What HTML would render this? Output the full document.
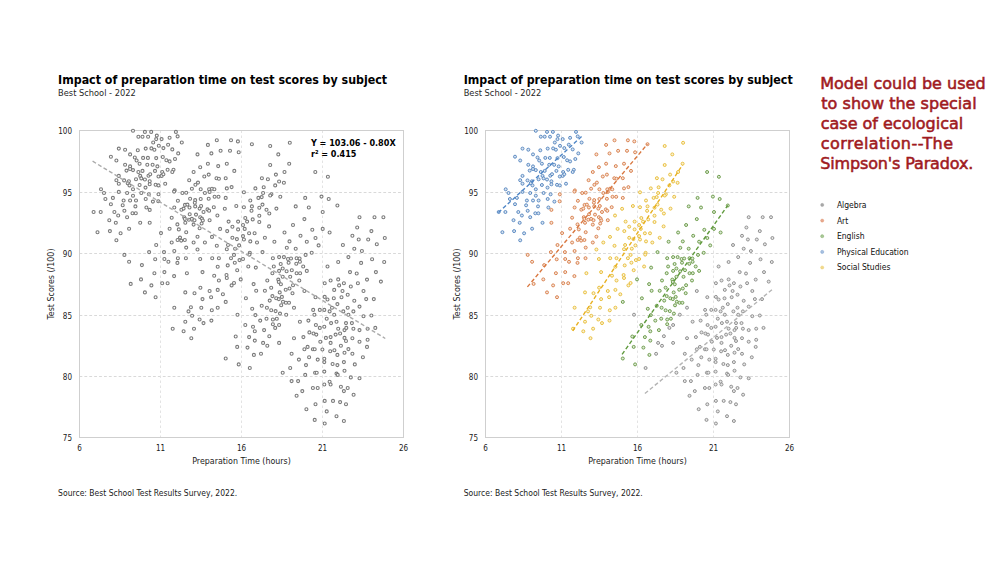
<!DOCTYPE html>
<html><head><meta charset="utf-8"><title>Impact of preparation time on test scores by subject</title><style>
html,body{margin:0;padding:0;background:#fff;}
svg{display:block;}
.soft{filter:blur(0.3px);}
text{font-family:'DejaVu Sans Condensed','DejaVu Sans',sans-serif;font-stretch:condensed;}
.g{stroke:#d9d9d9;stroke-width:1;stroke-dasharray:2.8 2.1;}
.gv{stroke:#e3e3e3;stroke-width:1;stroke-dasharray:2.5 2.5;}
.ax{fill:none;stroke:#cfcfcf;stroke-width:1;}
.tk{font-size:8px;fill:#1a1a1a;}
.at{font-size:8.8px;fill:#1a1a1a;}
.yt{font-size:8.85px;fill:#1a1a1a;}
.ti{font-size:12.3px;font-weight:bold;fill:#000;}
.st{font-size:9.2px;fill:#262626;}
.src{font-size:8.5px;fill:#1a1a1a;}
.eq{font-size:9px;font-weight:bold;fill:#000;}
.lg{font-size:8.5px;fill:#111;}
.red{font-family:'DejaVu Sans',sans-serif;font-stretch:normal;font-size:16px;fill:#A01A1E;stroke:#A01A1E;stroke-width:0.55px;}
.tr{stroke-width:1.4;stroke-dasharray:4 2.4;fill:none;}
.dl{fill:#fff;stroke:#7a7a7a;stroke-width:1.1;}
.dr{stroke-width:0.95;}
</style></head><body>
<svg width="1005" height="565" viewBox="0 0 1005 565">
<rect width="1005" height="565" fill="#fff"/>
<g class="soft">
<line x1="79.5" y1="192.5" x2="403.5" y2="192.5" class="g"/>
<line x1="79.5" y1="253.5" x2="403.5" y2="253.5" class="g"/>
<line x1="79.5" y1="315.5" x2="403.5" y2="315.5" class="g"/>
<line x1="79.5" y1="376.5" x2="403.5" y2="376.5" class="g"/>
<line x1="160.5" y1="130.5" x2="160.5" y2="437.5" class="gv"/>
<line x1="241.5" y1="130.5" x2="241.5" y2="437.5" class="gv"/>
<line x1="322.5" y1="130.5" x2="322.5" y2="437.5" class="gv"/>
<rect x="79.5" y="130.5" width="324.0" height="307.0" class="ax"/>
<line x1="485.5" y1="192.5" x2="789.5" y2="192.5" class="g"/>
<line x1="485.5" y1="253.5" x2="789.5" y2="253.5" class="g"/>
<line x1="485.5" y1="315.5" x2="789.5" y2="315.5" class="g"/>
<line x1="485.5" y1="376.5" x2="789.5" y2="376.5" class="g"/>
<line x1="561.5" y1="130.5" x2="561.5" y2="437.5" class="gv"/>
<line x1="637.5" y1="130.5" x2="637.5" y2="437.5" class="gv"/>
<line x1="713.5" y1="130.5" x2="713.5" y2="437.5" class="gv"/>
<rect x="485.5" y="130.5" width="304.0" height="307.0" class="ax"/>
<circle cx="133.0" cy="130.8" r="1.5" class="dl"/>
<circle cx="144.9" cy="131.9" r="1.5" class="dl"/>
<circle cx="151.2" cy="131.9" r="1.5" class="dl"/>
<circle cx="138.4" cy="136.7" r="1.5" class="dl"/>
<circle cx="142.5" cy="136.7" r="1.5" class="dl"/>
<circle cx="148.1" cy="136.7" r="1.5" class="dl"/>
<circle cx="156.8" cy="135.6" r="1.5" class="dl"/>
<circle cx="156.2" cy="139.1" r="1.5" class="dl"/>
<circle cx="153.2" cy="142.5" r="1.5" class="dl"/>
<circle cx="158.8" cy="145.8" r="1.5" class="dl"/>
<circle cx="118.8" cy="148.6" r="1.5" class="dl"/>
<circle cx="125.1" cy="149.7" r="1.5" class="dl"/>
<circle cx="137.8" cy="150.3" r="1.5" class="dl"/>
<circle cx="145.7" cy="148.6" r="1.5" class="dl"/>
<circle cx="151.4" cy="148.4" r="1.5" class="dl"/>
<circle cx="154.4" cy="149.7" r="1.5" class="dl"/>
<circle cx="130.1" cy="154.4" r="1.5" class="dl"/>
<circle cx="110.9" cy="156.7" r="1.5" class="dl"/>
<circle cx="134.8" cy="157.5" r="1.5" class="dl"/>
<circle cx="143.1" cy="157.9" r="1.5" class="dl"/>
<circle cx="147.9" cy="157.9" r="1.5" class="dl"/>
<circle cx="156.2" cy="158.1" r="1.5" class="dl"/>
<circle cx="116.4" cy="160.5" r="1.5" class="dl"/>
<circle cx="136.6" cy="160.5" r="1.5" class="dl"/>
<circle cx="139.6" cy="163.7" r="1.5" class="dl"/>
<circle cx="125.1" cy="164.8" r="1.5" class="dl"/>
<circle cx="147.3" cy="164.8" r="1.5" class="dl"/>
<circle cx="152.6" cy="164.8" r="1.5" class="dl"/>
<circle cx="130.1" cy="166.4" r="1.5" class="dl"/>
<circle cx="157.4" cy="166.4" r="1.5" class="dl"/>
<circle cx="126.5" cy="170.6" r="1.5" class="dl"/>
<circle cx="130.1" cy="169.0" r="1.5" class="dl"/>
<circle cx="133.0" cy="170.1" r="1.5" class="dl"/>
<circle cx="138.4" cy="172.0" r="1.5" class="dl"/>
<circle cx="142.5" cy="170.9" r="1.5" class="dl"/>
<circle cx="155.0" cy="170.9" r="1.5" class="dl"/>
<circle cx="118.8" cy="175.9" r="1.5" class="dl"/>
<circle cx="140.2" cy="175.9" r="1.5" class="dl"/>
<circle cx="148.5" cy="175.7" r="1.5" class="dl"/>
<circle cx="150.2" cy="174.2" r="1.5" class="dl"/>
<circle cx="158.5" cy="176.5" r="1.5" class="dl"/>
<circle cx="116.4" cy="180.2" r="1.5" class="dl"/>
<circle cx="124.1" cy="180.4" r="1.5" class="dl"/>
<circle cx="128.9" cy="181.3" r="1.5" class="dl"/>
<circle cx="136.0" cy="179.3" r="1.5" class="dl"/>
<circle cx="141.3" cy="178.4" r="1.5" class="dl"/>
<circle cx="144.9" cy="179.5" r="1.5" class="dl"/>
<circle cx="149.7" cy="181.3" r="1.5" class="dl"/>
<circle cx="118.8" cy="183.7" r="1.5" class="dl"/>
<circle cx="127.7" cy="183.2" r="1.5" class="dl"/>
<circle cx="129.5" cy="185.4" r="1.5" class="dl"/>
<circle cx="139.6" cy="185.0" r="1.5" class="dl"/>
<circle cx="149.7" cy="184.3" r="1.5" class="dl"/>
<circle cx="155.6" cy="184.8" r="1.5" class="dl"/>
<circle cx="158.5" cy="185.4" r="1.5" class="dl"/>
<circle cx="101.0" cy="189.3" r="1.5" class="dl"/>
<circle cx="133.0" cy="189.3" r="1.5" class="dl"/>
<circle cx="145.5" cy="187.6" r="1.5" class="dl"/>
<circle cx="104.0" cy="193.0" r="1.5" class="dl"/>
<circle cx="118.8" cy="191.9" r="1.5" class="dl"/>
<circle cx="127.1" cy="193.0" r="1.5" class="dl"/>
<circle cx="133.0" cy="195.7" r="1.5" class="dl"/>
<circle cx="141.3" cy="193.0" r="1.5" class="dl"/>
<circle cx="148.8" cy="194.3" r="1.5" class="dl"/>
<circle cx="105.4" cy="199.0" r="1.5" class="dl"/>
<circle cx="112.9" cy="197.9" r="1.5" class="dl"/>
<circle cx="123.6" cy="200.5" r="1.5" class="dl"/>
<circle cx="130.1" cy="200.5" r="1.5" class="dl"/>
<circle cx="136.0" cy="200.5" r="1.5" class="dl"/>
<circle cx="145.7" cy="199.0" r="1.5" class="dl"/>
<circle cx="152.9" cy="201.6" r="1.5" class="dl"/>
<circle cx="110.9" cy="204.2" r="1.5" class="dl"/>
<circle cx="122.7" cy="205.3" r="1.5" class="dl"/>
<circle cx="135.4" cy="206.4" r="1.5" class="dl"/>
<circle cx="146.4" cy="207.5" r="1.5" class="dl"/>
<circle cx="93.6" cy="212.0" r="1.5" class="dl"/>
<circle cx="100.7" cy="212.0" r="1.5" class="dl"/>
<circle cx="114.4" cy="212.0" r="1.5" class="dl"/>
<circle cx="118.2" cy="215.5" r="1.5" class="dl"/>
<circle cx="124.4" cy="210.8" r="1.5" class="dl"/>
<circle cx="127.1" cy="217.2" r="1.5" class="dl"/>
<circle cx="132.5" cy="213.3" r="1.5" class="dl"/>
<circle cx="135.8" cy="213.3" r="1.5" class="dl"/>
<circle cx="109.3" cy="220.2" r="1.5" class="dl"/>
<circle cx="115.8" cy="222.8" r="1.5" class="dl"/>
<circle cx="140.2" cy="222.8" r="1.5" class="dl"/>
<circle cx="129.1" cy="228.7" r="1.5" class="dl"/>
<circle cx="97.5" cy="232.2" r="1.5" class="dl"/>
<circle cx="109.9" cy="231.1" r="1.5" class="dl"/>
<circle cx="120.6" cy="233.3" r="1.5" class="dl"/>
<circle cx="116.4" cy="240.3" r="1.5" class="dl"/>
<circle cx="158.5" cy="194.3" r="1.5" class="dl"/>
<circle cx="158.3" cy="201.3" r="1.5" class="dl"/>
<circle cx="149.7" cy="209.9" r="1.5" class="dl"/>
<circle cx="149.7" cy="222.8" r="1.5" class="dl"/>
<circle cx="156.2" cy="245.0" r="1.5" class="dl"/>
<circle cx="149.1" cy="252.1" r="1.5" class="dl"/>
<circle cx="124.4" cy="254.9" r="1.5" class="dl"/>
<circle cx="129.1" cy="261.8" r="1.5" class="dl"/>
<circle cx="155.2" cy="259.3" r="1.5" class="dl"/>
<circle cx="141.9" cy="265.1" r="1.5" class="dl"/>
<circle cx="154.4" cy="273.2" r="1.5" class="dl"/>
<circle cx="141.0" cy="279.4" r="1.5" class="dl"/>
<circle cx="130.7" cy="283.9" r="1.5" class="dl"/>
<circle cx="151.4" cy="285.4" r="1.5" class="dl"/>
<circle cx="144.9" cy="292.4" r="1.5" class="dl"/>
<circle cx="155.6" cy="297.2" r="1.5" class="dl"/>
<circle cx="175.9" cy="131.9" r="1.5" class="dl"/>
<circle cx="161.6" cy="139.1" r="1.5" class="dl"/>
<circle cx="169.6" cy="137.8" r="1.5" class="dl"/>
<circle cx="177.6" cy="136.4" r="1.5" class="dl"/>
<circle cx="181.8" cy="142.5" r="1.5" class="dl"/>
<circle cx="168.1" cy="144.7" r="1.5" class="dl"/>
<circle cx="163.4" cy="148.1" r="1.5" class="dl"/>
<circle cx="172.3" cy="149.4" r="1.5" class="dl"/>
<circle cx="178.2" cy="153.4" r="1.5" class="dl"/>
<circle cx="162.8" cy="157.0" r="1.5" class="dl"/>
<circle cx="166.4" cy="160.3" r="1.5" class="dl"/>
<circle cx="169.6" cy="161.4" r="1.5" class="dl"/>
<circle cx="175.0" cy="159.0" r="1.5" class="dl"/>
<circle cx="167.6" cy="169.8" r="1.5" class="dl"/>
<circle cx="173.5" cy="169.8" r="1.5" class="dl"/>
<circle cx="172.3" cy="172.0" r="1.5" class="dl"/>
<circle cx="162.2" cy="172.0" r="1.5" class="dl"/>
<circle cx="161.6" cy="175.9" r="1.5" class="dl"/>
<circle cx="163.4" cy="174.2" r="1.5" class="dl"/>
<circle cx="165.2" cy="183.7" r="1.5" class="dl"/>
<circle cx="216.8" cy="140.3" r="1.5" class="dl"/>
<circle cx="231.0" cy="140.3" r="1.5" class="dl"/>
<circle cx="237.9" cy="141.4" r="1.5" class="dl"/>
<circle cx="207.9" cy="144.9" r="1.5" class="dl"/>
<circle cx="197.5" cy="154.4" r="1.5" class="dl"/>
<circle cx="211.4" cy="153.4" r="1.5" class="dl"/>
<circle cx="220.6" cy="150.8" r="1.5" class="dl"/>
<circle cx="230.0" cy="150.8" r="1.5" class="dl"/>
<circle cx="238.7" cy="152.3" r="1.5" class="dl"/>
<circle cx="207.9" cy="163.7" r="1.5" class="dl"/>
<circle cx="200.2" cy="167.2" r="1.5" class="dl"/>
<circle cx="218.2" cy="166.1" r="1.5" class="dl"/>
<circle cx="226.8" cy="163.7" r="1.5" class="dl"/>
<circle cx="234.3" cy="170.9" r="1.5" class="dl"/>
<circle cx="193.6" cy="172.0" r="1.5" class="dl"/>
<circle cx="204.3" cy="176.5" r="1.5" class="dl"/>
<circle cx="208.7" cy="174.6" r="1.5" class="dl"/>
<circle cx="216.5" cy="178.2" r="1.5" class="dl"/>
<circle cx="218.9" cy="178.7" r="1.5" class="dl"/>
<circle cx="225.7" cy="178.2" r="1.5" class="dl"/>
<circle cx="189.2" cy="180.2" r="1.5" class="dl"/>
<circle cx="195.4" cy="184.8" r="1.5" class="dl"/>
<circle cx="198.0" cy="182.6" r="1.5" class="dl"/>
<circle cx="191.9" cy="188.7" r="1.5" class="dl"/>
<circle cx="200.7" cy="189.3" r="1.5" class="dl"/>
<circle cx="209.1" cy="189.3" r="1.5" class="dl"/>
<circle cx="212.0" cy="188.7" r="1.5" class="dl"/>
<circle cx="214.4" cy="189.3" r="1.5" class="dl"/>
<circle cx="226.8" cy="188.4" r="1.5" class="dl"/>
<circle cx="231.6" cy="187.1" r="1.5" class="dl"/>
<circle cx="174.7" cy="190.4" r="1.5" class="dl"/>
<circle cx="174.1" cy="191.6" r="1.5" class="dl"/>
<circle cx="182.4" cy="193.0" r="1.5" class="dl"/>
<circle cx="186.2" cy="192.7" r="1.5" class="dl"/>
<circle cx="204.9" cy="193.0" r="1.5" class="dl"/>
<circle cx="209.6" cy="191.9" r="1.5" class="dl"/>
<circle cx="177.9" cy="200.8" r="1.5" class="dl"/>
<circle cx="190.1" cy="198.8" r="1.5" class="dl"/>
<circle cx="195.2" cy="200.1" r="1.5" class="dl"/>
<circle cx="194.8" cy="202.7" r="1.5" class="dl"/>
<circle cx="200.7" cy="199.0" r="1.5" class="dl"/>
<circle cx="208.7" cy="198.8" r="1.5" class="dl"/>
<circle cx="214.6" cy="196.8" r="1.5" class="dl"/>
<circle cx="218.5" cy="196.8" r="1.5" class="dl"/>
<circle cx="225.7" cy="197.9" r="1.5" class="dl"/>
<circle cx="174.3" cy="207.5" r="1.5" class="dl"/>
<circle cx="185.0" cy="204.9" r="1.5" class="dl"/>
<circle cx="187.4" cy="204.6" r="1.5" class="dl"/>
<circle cx="189.5" cy="207.5" r="1.5" class="dl"/>
<circle cx="195.2" cy="206.4" r="1.5" class="dl"/>
<circle cx="201.1" cy="206.0" r="1.5" class="dl"/>
<circle cx="199.6" cy="208.6" r="1.5" class="dl"/>
<circle cx="207.5" cy="209.4" r="1.5" class="dl"/>
<circle cx="209.1" cy="210.8" r="1.5" class="dl"/>
<circle cx="213.8" cy="207.2" r="1.5" class="dl"/>
<circle cx="203.5" cy="212.0" r="1.5" class="dl"/>
<circle cx="181.4" cy="209.7" r="1.5" class="dl"/>
<circle cx="183.6" cy="208.6" r="1.5" class="dl"/>
<circle cx="189.7" cy="214.2" r="1.5" class="dl"/>
<circle cx="196.0" cy="214.6" r="1.5" class="dl"/>
<circle cx="171.7" cy="217.7" r="1.5" class="dl"/>
<circle cx="184.2" cy="217.2" r="1.5" class="dl"/>
<circle cx="184.8" cy="218.9" r="1.5" class="dl"/>
<circle cx="188.9" cy="219.7" r="1.5" class="dl"/>
<circle cx="191.9" cy="218.9" r="1.5" class="dl"/>
<circle cx="194.5" cy="220.2" r="1.5" class="dl"/>
<circle cx="200.2" cy="217.2" r="1.5" class="dl"/>
<circle cx="201.9" cy="218.6" r="1.5" class="dl"/>
<circle cx="202.8" cy="220.5" r="1.5" class="dl"/>
<circle cx="209.6" cy="220.2" r="1.5" class="dl"/>
<circle cx="185.3" cy="222.8" r="1.5" class="dl"/>
<circle cx="193.6" cy="224.6" r="1.5" class="dl"/>
<circle cx="201.6" cy="223.5" r="1.5" class="dl"/>
<circle cx="177.4" cy="224.4" r="1.5" class="dl"/>
<circle cx="178.8" cy="229.4" r="1.5" class="dl"/>
<circle cx="169.6" cy="228.7" r="1.5" class="dl"/>
<circle cx="186.2" cy="232.2" r="1.5" class="dl"/>
<circle cx="199.6" cy="228.3" r="1.5" class="dl"/>
<circle cx="161.0" cy="233.1" r="1.5" class="dl"/>
<circle cx="180.0" cy="237.6" r="1.5" class="dl"/>
<circle cx="177.6" cy="240.0" r="1.5" class="dl"/>
<circle cx="181.2" cy="240.6" r="1.5" class="dl"/>
<circle cx="184.8" cy="240.0" r="1.5" class="dl"/>
<circle cx="197.5" cy="236.7" r="1.5" class="dl"/>
<circle cx="171.7" cy="242.5" r="1.5" class="dl"/>
<circle cx="193.6" cy="242.5" r="1.5" class="dl"/>
<circle cx="186.2" cy="247.6" r="1.5" class="dl"/>
<circle cx="174.3" cy="251.0" r="1.5" class="dl"/>
<circle cx="164.0" cy="252.1" r="1.5" class="dl"/>
<circle cx="236.3" cy="206.0" r="1.5" class="dl"/>
<circle cx="224.8" cy="208.8" r="1.5" class="dl"/>
<circle cx="217.4" cy="215.5" r="1.5" class="dl"/>
<circle cx="228.6" cy="221.6" r="1.5" class="dl"/>
<circle cx="238.1" cy="221.6" r="1.5" class="dl"/>
<circle cx="232.4" cy="226.7" r="1.5" class="dl"/>
<circle cx="220.1" cy="228.9" r="1.5" class="dl"/>
<circle cx="227.2" cy="231.1" r="1.5" class="dl"/>
<circle cx="238.1" cy="229.4" r="1.5" class="dl"/>
<circle cx="212.0" cy="236.9" r="1.5" class="dl"/>
<circle cx="232.4" cy="237.8" r="1.5" class="dl"/>
<circle cx="236.9" cy="239.1" r="1.5" class="dl"/>
<circle cx="204.9" cy="242.5" r="1.5" class="dl"/>
<circle cx="216.8" cy="245.8" r="1.5" class="dl"/>
<circle cx="228.0" cy="245.0" r="1.5" class="dl"/>
<circle cx="239.1" cy="245.4" r="1.5" class="dl"/>
<circle cx="226.8" cy="249.2" r="1.5" class="dl"/>
<circle cx="235.1" cy="248.7" r="1.5" class="dl"/>
<circle cx="197.5" cy="249.5" r="1.5" class="dl"/>
<circle cx="164.4" cy="259.0" r="1.5" class="dl"/>
<circle cx="168.4" cy="261.8" r="1.5" class="dl"/>
<circle cx="177.9" cy="258.2" r="1.5" class="dl"/>
<circle cx="177.4" cy="262.9" r="1.5" class="dl"/>
<circle cx="185.9" cy="258.2" r="1.5" class="dl"/>
<circle cx="164.4" cy="272.1" r="1.5" class="dl"/>
<circle cx="174.1" cy="276.1" r="1.5" class="dl"/>
<circle cx="162.2" cy="283.2" r="1.5" class="dl"/>
<circle cx="167.6" cy="283.2" r="1.5" class="dl"/>
<circle cx="200.2" cy="259.0" r="1.5" class="dl"/>
<circle cx="212.2" cy="258.2" r="1.5" class="dl"/>
<circle cx="218.9" cy="258.2" r="1.5" class="dl"/>
<circle cx="231.0" cy="258.2" r="1.5" class="dl"/>
<circle cx="234.0" cy="254.9" r="1.5" class="dl"/>
<circle cx="234.8" cy="262.7" r="1.5" class="dl"/>
<circle cx="239.5" cy="260.1" r="1.5" class="dl"/>
<circle cx="227.7" cy="265.4" r="1.5" class="dl"/>
<circle cx="217.7" cy="266.8" r="1.5" class="dl"/>
<circle cx="237.2" cy="270.2" r="1.5" class="dl"/>
<circle cx="202.5" cy="272.1" r="1.5" class="dl"/>
<circle cx="186.9" cy="273.2" r="1.5" class="dl"/>
<circle cx="214.2" cy="275.7" r="1.5" class="dl"/>
<circle cx="226.5" cy="275.0" r="1.5" class="dl"/>
<circle cx="226.8" cy="278.0" r="1.5" class="dl"/>
<circle cx="218.9" cy="280.5" r="1.5" class="dl"/>
<circle cx="234.0" cy="283.0" r="1.5" class="dl"/>
<circle cx="231.6" cy="285.4" r="1.5" class="dl"/>
<circle cx="200.4" cy="287.7" r="1.5" class="dl"/>
<circle cx="209.6" cy="291.0" r="1.5" class="dl"/>
<circle cx="217.7" cy="289.9" r="1.5" class="dl"/>
<circle cx="185.3" cy="292.4" r="1.5" class="dl"/>
<circle cx="194.5" cy="293.2" r="1.5" class="dl"/>
<circle cx="222.9" cy="294.3" r="1.5" class="dl"/>
<circle cx="211.1" cy="297.2" r="1.5" class="dl"/>
<circle cx="202.5" cy="299.1" r="1.5" class="dl"/>
<circle cx="174.3" cy="307.7" r="1.5" class="dl"/>
<circle cx="190.9" cy="307.3" r="1.5" class="dl"/>
<circle cx="201.3" cy="307.7" r="1.5" class="dl"/>
<circle cx="217.7" cy="307.7" r="1.5" class="dl"/>
<circle cx="211.8" cy="310.3" r="1.5" class="dl"/>
<circle cx="188.5" cy="311.4" r="1.5" class="dl"/>
<circle cx="192.1" cy="315.8" r="1.5" class="dl"/>
<circle cx="240.7" cy="279.4" r="1.5" class="dl"/>
<circle cx="225.7" cy="301.9" r="1.5" class="dl"/>
<circle cx="237.5" cy="314.7" r="1.5" class="dl"/>
<circle cx="172.7" cy="328.7" r="1.5" class="dl"/>
<circle cx="185.3" cy="321.7" r="1.5" class="dl"/>
<circle cx="199.6" cy="319.5" r="1.5" class="dl"/>
<circle cx="203.5" cy="323.1" r="1.5" class="dl"/>
<circle cx="211.4" cy="320.6" r="1.5" class="dl"/>
<circle cx="183.6" cy="331.3" r="1.5" class="dl"/>
<circle cx="194.0" cy="328.7" r="1.5" class="dl"/>
<circle cx="191.3" cy="338.2" r="1.5" class="dl"/>
<circle cx="235.7" cy="336.5" r="1.5" class="dl"/>
<circle cx="237.2" cy="346.9" r="1.5" class="dl"/>
<circle cx="225.7" cy="358.5" r="1.5" class="dl"/>
<circle cx="238.7" cy="364.4" r="1.5" class="dl"/>
<circle cx="251.9" cy="144.2" r="1.5" class="dl"/>
<circle cx="270.2" cy="146.0" r="1.5" class="dl"/>
<circle cx="289.8" cy="142.8" r="1.5" class="dl"/>
<circle cx="278.3" cy="154.4" r="1.5" class="dl"/>
<circle cx="270.2" cy="165.0" r="1.5" class="dl"/>
<circle cx="289.2" cy="163.7" r="1.5" class="dl"/>
<circle cx="284.5" cy="172.0" r="1.5" class="dl"/>
<circle cx="275.9" cy="174.6" r="1.5" class="dl"/>
<circle cx="261.9" cy="178.2" r="1.5" class="dl"/>
<circle cx="267.9" cy="179.3" r="1.5" class="dl"/>
<circle cx="279.1" cy="181.5" r="1.5" class="dl"/>
<circle cx="283.9" cy="182.8" r="1.5" class="dl"/>
<circle cx="275.2" cy="185.4" r="1.5" class="dl"/>
<circle cx="263.7" cy="187.3" r="1.5" class="dl"/>
<circle cx="255.4" cy="188.4" r="1.5" class="dl"/>
<circle cx="315.3" cy="172.0" r="1.5" class="dl"/>
<circle cx="243.9" cy="192.3" r="1.5" class="dl"/>
<circle cx="263.1" cy="193.0" r="1.5" class="dl"/>
<circle cx="271.4" cy="194.3" r="1.5" class="dl"/>
<circle cx="270.2" cy="195.5" r="1.5" class="dl"/>
<circle cx="258.4" cy="197.9" r="1.5" class="dl"/>
<circle cx="261.7" cy="197.1" r="1.5" class="dl"/>
<circle cx="280.3" cy="196.8" r="1.5" class="dl"/>
<circle cx="250.3" cy="200.5" r="1.5" class="dl"/>
<circle cx="243.9" cy="207.2" r="1.5" class="dl"/>
<circle cx="251.9" cy="206.4" r="1.5" class="dl"/>
<circle cx="251.5" cy="210.8" r="1.5" class="dl"/>
<circle cx="259.3" cy="207.7" r="1.5" class="dl"/>
<circle cx="262.5" cy="204.6" r="1.5" class="dl"/>
<circle cx="266.5" cy="209.7" r="1.5" class="dl"/>
<circle cx="269.3" cy="213.5" r="1.5" class="dl"/>
<circle cx="276.4" cy="208.6" r="1.5" class="dl"/>
<circle cx="259.3" cy="215.7" r="1.5" class="dl"/>
<circle cx="245.3" cy="218.0" r="1.5" class="dl"/>
<circle cx="247.1" cy="221.6" r="1.5" class="dl"/>
<circle cx="252.7" cy="219.4" r="1.5" class="dl"/>
<circle cx="259.3" cy="222.0" r="1.5" class="dl"/>
<circle cx="243.0" cy="225.0" r="1.5" class="dl"/>
<circle cx="244.7" cy="228.9" r="1.5" class="dl"/>
<circle cx="269.1" cy="226.4" r="1.5" class="dl"/>
<circle cx="249.1" cy="233.3" r="1.5" class="dl"/>
<circle cx="254.6" cy="233.3" r="1.5" class="dl"/>
<circle cx="243.0" cy="236.1" r="1.5" class="dl"/>
<circle cx="243.9" cy="239.5" r="1.5" class="dl"/>
<circle cx="264.9" cy="237.8" r="1.5" class="dl"/>
<circle cx="250.3" cy="241.4" r="1.5" class="dl"/>
<circle cx="257.0" cy="242.5" r="1.5" class="dl"/>
<circle cx="249.8" cy="252.8" r="1.5" class="dl"/>
<circle cx="305.2" cy="197.9" r="1.5" class="dl"/>
<circle cx="321.5" cy="196.6" r="1.5" class="dl"/>
<circle cx="295.7" cy="206.4" r="1.5" class="dl"/>
<circle cx="308.8" cy="207.5" r="1.5" class="dl"/>
<circle cx="322.7" cy="212.0" r="1.5" class="dl"/>
<circle cx="304.4" cy="219.1" r="1.5" class="dl"/>
<circle cx="293.0" cy="225.0" r="1.5" class="dl"/>
<circle cx="312.3" cy="229.8" r="1.5" class="dl"/>
<circle cx="322.7" cy="228.9" r="1.5" class="dl"/>
<circle cx="284.5" cy="232.5" r="1.5" class="dl"/>
<circle cx="300.5" cy="235.8" r="1.5" class="dl"/>
<circle cx="315.5" cy="238.0" r="1.5" class="dl"/>
<circle cx="274.4" cy="241.7" r="1.5" class="dl"/>
<circle cx="289.5" cy="241.4" r="1.5" class="dl"/>
<circle cx="306.8" cy="241.7" r="1.5" class="dl"/>
<circle cx="318.6" cy="245.4" r="1.5" class="dl"/>
<circle cx="286.8" cy="247.8" r="1.5" class="dl"/>
<circle cx="295.7" cy="248.7" r="1.5" class="dl"/>
<circle cx="262.5" cy="252.1" r="1.5" class="dl"/>
<circle cx="311.7" cy="252.8" r="1.5" class="dl"/>
<circle cx="243.0" cy="259.0" r="1.5" class="dl"/>
<circle cx="248.3" cy="266.5" r="1.5" class="dl"/>
<circle cx="249.5" cy="254.6" r="1.5" class="dl"/>
<circle cx="272.9" cy="258.2" r="1.5" class="dl"/>
<circle cx="279.1" cy="257.1" r="1.5" class="dl"/>
<circle cx="283.9" cy="257.1" r="1.5" class="dl"/>
<circle cx="288.0" cy="259.0" r="1.5" class="dl"/>
<circle cx="291.0" cy="258.5" r="1.5" class="dl"/>
<circle cx="296.6" cy="258.2" r="1.5" class="dl"/>
<circle cx="299.6" cy="258.5" r="1.5" class="dl"/>
<circle cx="288.6" cy="262.7" r="1.5" class="dl"/>
<circle cx="296.3" cy="263.8" r="1.5" class="dl"/>
<circle cx="299.9" cy="261.8" r="1.5" class="dl"/>
<circle cx="280.7" cy="264.0" r="1.5" class="dl"/>
<circle cx="273.8" cy="266.5" r="1.5" class="dl"/>
<circle cx="303.2" cy="266.5" r="1.5" class="dl"/>
<circle cx="255.8" cy="267.6" r="1.5" class="dl"/>
<circle cx="282.7" cy="268.5" r="1.5" class="dl"/>
<circle cx="279.1" cy="270.9" r="1.5" class="dl"/>
<circle cx="286.6" cy="271.3" r="1.5" class="dl"/>
<circle cx="291.8" cy="270.2" r="1.5" class="dl"/>
<circle cx="306.8" cy="270.9" r="1.5" class="dl"/>
<circle cx="296.6" cy="273.2" r="1.5" class="dl"/>
<circle cx="300.1" cy="273.2" r="1.5" class="dl"/>
<circle cx="272.4" cy="273.2" r="1.5" class="dl"/>
<circle cx="290.2" cy="276.8" r="1.5" class="dl"/>
<circle cx="282.7" cy="276.8" r="1.5" class="dl"/>
<circle cx="299.3" cy="280.5" r="1.5" class="dl"/>
<circle cx="267.3" cy="280.5" r="1.5" class="dl"/>
<circle cx="278.3" cy="279.6" r="1.5" class="dl"/>
<circle cx="278.8" cy="281.9" r="1.5" class="dl"/>
<circle cx="280.9" cy="284.3" r="1.5" class="dl"/>
<circle cx="253.6" cy="284.1" r="1.5" class="dl"/>
<circle cx="293.0" cy="285.2" r="1.5" class="dl"/>
<circle cx="271.2" cy="287.7" r="1.5" class="dl"/>
<circle cx="285.7" cy="289.7" r="1.5" class="dl"/>
<circle cx="289.5" cy="288.5" r="1.5" class="dl"/>
<circle cx="256.2" cy="290.8" r="1.5" class="dl"/>
<circle cx="264.9" cy="290.8" r="1.5" class="dl"/>
<circle cx="279.7" cy="292.4" r="1.5" class="dl"/>
<circle cx="292.5" cy="293.2" r="1.5" class="dl"/>
<circle cx="245.9" cy="298.3" r="1.5" class="dl"/>
<circle cx="272.4" cy="296.1" r="1.5" class="dl"/>
<circle cx="276.2" cy="298.3" r="1.5" class="dl"/>
<circle cx="278.8" cy="299.1" r="1.5" class="dl"/>
<circle cx="281.9" cy="296.9" r="1.5" class="dl"/>
<circle cx="269.7" cy="300.6" r="1.5" class="dl"/>
<circle cx="283.0" cy="301.7" r="1.5" class="dl"/>
<circle cx="285.9" cy="302.8" r="1.5" class="dl"/>
<circle cx="289.0" cy="302.8" r="1.5" class="dl"/>
<circle cx="281.2" cy="305.3" r="1.5" class="dl"/>
<circle cx="261.7" cy="305.8" r="1.5" class="dl"/>
<circle cx="266.9" cy="307.7" r="1.5" class="dl"/>
<circle cx="252.2" cy="308.8" r="1.5" class="dl"/>
<circle cx="271.2" cy="310.3" r="1.5" class="dl"/>
<circle cx="275.6" cy="311.1" r="1.5" class="dl"/>
<circle cx="280.0" cy="313.6" r="1.5" class="dl"/>
<circle cx="255.4" cy="315.1" r="1.5" class="dl"/>
<circle cx="305.6" cy="254.9" r="1.5" class="dl"/>
<circle cx="304.4" cy="291.0" r="1.5" class="dl"/>
<circle cx="315.5" cy="297.2" r="1.5" class="dl"/>
<circle cx="294.0" cy="307.7" r="1.5" class="dl"/>
<circle cx="313.2" cy="309.9" r="1.5" class="dl"/>
<circle cx="319.8" cy="309.9" r="1.5" class="dl"/>
<circle cx="286.2" cy="314.7" r="1.5" class="dl"/>
<circle cx="314.4" cy="314.7" r="1.5" class="dl"/>
<circle cx="245.3" cy="325.0" r="1.5" class="dl"/>
<circle cx="253.0" cy="326.8" r="1.5" class="dl"/>
<circle cx="260.2" cy="320.6" r="1.5" class="dl"/>
<circle cx="266.5" cy="318.7" r="1.5" class="dl"/>
<circle cx="272.9" cy="319.5" r="1.5" class="dl"/>
<circle cx="276.8" cy="318.7" r="1.5" class="dl"/>
<circle cx="272.9" cy="324.2" r="1.5" class="dl"/>
<circle cx="254.8" cy="331.3" r="1.5" class="dl"/>
<circle cx="264.1" cy="330.1" r="1.5" class="dl"/>
<circle cx="249.1" cy="337.1" r="1.5" class="dl"/>
<circle cx="254.8" cy="340.6" r="1.5" class="dl"/>
<circle cx="247.5" cy="347.6" r="1.5" class="dl"/>
<circle cx="253.9" cy="354.9" r="1.5" class="dl"/>
<circle cx="279.1" cy="325.0" r="1.5" class="dl"/>
<circle cx="275.2" cy="327.9" r="1.5" class="dl"/>
<circle cx="269.3" cy="336.2" r="1.5" class="dl"/>
<circle cx="299.9" cy="321.7" r="1.5" class="dl"/>
<circle cx="308.4" cy="320.6" r="1.5" class="dl"/>
<circle cx="315.9" cy="325.0" r="1.5" class="dl"/>
<circle cx="319.8" cy="327.9" r="1.5" class="dl"/>
<circle cx="309.4" cy="332.4" r="1.5" class="dl"/>
<circle cx="313.5" cy="333.5" r="1.5" class="dl"/>
<circle cx="316.3" cy="334.6" r="1.5" class="dl"/>
<circle cx="294.0" cy="338.2" r="1.5" class="dl"/>
<circle cx="303.4" cy="337.1" r="1.5" class="dl"/>
<circle cx="320.3" cy="341.7" r="1.5" class="dl"/>
<circle cx="263.1" cy="342.9" r="1.5" class="dl"/>
<circle cx="267.3" cy="345.8" r="1.5" class="dl"/>
<circle cx="279.1" cy="342.9" r="1.5" class="dl"/>
<circle cx="304.4" cy="349.3" r="1.5" class="dl"/>
<circle cx="307.6" cy="346.9" r="1.5" class="dl"/>
<circle cx="312.9" cy="349.3" r="1.5" class="dl"/>
<circle cx="314.7" cy="349.3" r="1.5" class="dl"/>
<circle cx="291.6" cy="353.8" r="1.5" class="dl"/>
<circle cx="261.0" cy="353.8" r="1.5" class="dl"/>
<circle cx="298.9" cy="359.6" r="1.5" class="dl"/>
<circle cx="309.1" cy="357.3" r="1.5" class="dl"/>
<circle cx="317.7" cy="359.6" r="1.5" class="dl"/>
<circle cx="306.0" cy="365.1" r="1.5" class="dl"/>
<circle cx="290.2" cy="368.0" r="1.5" class="dl"/>
<circle cx="249.8" cy="368.0" r="1.5" class="dl"/>
<circle cx="282.7" cy="372.7" r="1.5" class="dl"/>
<circle cx="305.2" cy="374.9" r="1.5" class="dl"/>
<circle cx="315.1" cy="372.7" r="1.5" class="dl"/>
<circle cx="316.7" cy="372.7" r="1.5" class="dl"/>
<circle cx="322.4" cy="349.5" r="1.5" class="dl"/>
<circle cx="291.6" cy="381.1" r="1.5" class="dl"/>
<circle cx="298.1" cy="381.1" r="1.5" class="dl"/>
<circle cx="302.3" cy="391.1" r="1.5" class="dl"/>
<circle cx="296.6" cy="395.8" r="1.5" class="dl"/>
<circle cx="312.9" cy="388.0" r="1.5" class="dl"/>
<circle cx="317.7" cy="388.0" r="1.5" class="dl"/>
<circle cx="315.5" cy="404.3" r="1.5" class="dl"/>
<circle cx="306.4" cy="409.2" r="1.5" class="dl"/>
<circle cx="314.7" cy="419.9" r="1.5" class="dl"/>
<circle cx="327.9" cy="176.8" r="1.5" class="dl"/>
<circle cx="328.7" cy="199.0" r="1.5" class="dl"/>
<circle cx="337.4" cy="205.5" r="1.5" class="dl"/>
<circle cx="329.6" cy="232.5" r="1.5" class="dl"/>
<circle cx="359.5" cy="217.2" r="1.5" class="dl"/>
<circle cx="374.5" cy="217.2" r="1.5" class="dl"/>
<circle cx="383.4" cy="217.2" r="1.5" class="dl"/>
<circle cx="357.2" cy="227.5" r="1.5" class="dl"/>
<circle cx="371.4" cy="231.1" r="1.5" class="dl"/>
<circle cx="352.4" cy="235.8" r="1.5" class="dl"/>
<circle cx="358.7" cy="239.5" r="1.5" class="dl"/>
<circle cx="368.2" cy="239.5" r="1.5" class="dl"/>
<circle cx="384.8" cy="238.0" r="1.5" class="dl"/>
<circle cx="376.8" cy="244.3" r="1.5" class="dl"/>
<circle cx="342.9" cy="245.0" r="1.5" class="dl"/>
<circle cx="354.3" cy="248.7" r="1.5" class="dl"/>
<circle cx="361.9" cy="251.0" r="1.5" class="dl"/>
<circle cx="348.4" cy="257.1" r="1.5" class="dl"/>
<circle cx="338.2" cy="262.0" r="1.5" class="dl"/>
<circle cx="361.1" cy="262.9" r="1.5" class="dl"/>
<circle cx="372.1" cy="259.3" r="1.5" class="dl"/>
<circle cx="384.2" cy="262.0" r="1.5" class="dl"/>
<circle cx="327.5" cy="266.5" r="1.5" class="dl"/>
<circle cx="350.0" cy="272.1" r="1.5" class="dl"/>
<circle cx="356.7" cy="273.5" r="1.5" class="dl"/>
<circle cx="375.9" cy="272.1" r="1.5" class="dl"/>
<circle cx="330.6" cy="280.5" r="1.5" class="dl"/>
<circle cx="338.2" cy="279.4" r="1.5" class="dl"/>
<circle cx="324.7" cy="283.2" r="1.5" class="dl"/>
<circle cx="343.9" cy="283.2" r="1.5" class="dl"/>
<circle cx="339.1" cy="285.4" r="1.5" class="dl"/>
<circle cx="357.9" cy="283.2" r="1.5" class="dl"/>
<circle cx="367.0" cy="279.6" r="1.5" class="dl"/>
<circle cx="380.9" cy="281.6" r="1.5" class="dl"/>
<circle cx="350.8" cy="286.5" r="1.5" class="dl"/>
<circle cx="334.2" cy="289.9" r="1.5" class="dl"/>
<circle cx="342.5" cy="291.0" r="1.5" class="dl"/>
<circle cx="363.5" cy="291.0" r="1.5" class="dl"/>
<circle cx="347.7" cy="294.7" r="1.5" class="dl"/>
<circle cx="324.7" cy="296.9" r="1.5" class="dl"/>
<circle cx="327.5" cy="299.5" r="1.5" class="dl"/>
<circle cx="333.8" cy="298.3" r="1.5" class="dl"/>
<circle cx="341.5" cy="297.2" r="1.5" class="dl"/>
<circle cx="354.3" cy="300.8" r="1.5" class="dl"/>
<circle cx="366.2" cy="299.1" r="1.5" class="dl"/>
<circle cx="373.8" cy="299.1" r="1.5" class="dl"/>
<circle cx="337.4" cy="304.1" r="1.5" class="dl"/>
<circle cx="332.0" cy="307.7" r="1.5" class="dl"/>
<circle cx="324.3" cy="309.9" r="1.5" class="dl"/>
<circle cx="329.6" cy="311.4" r="1.5" class="dl"/>
<circle cx="347.7" cy="307.7" r="1.5" class="dl"/>
<circle cx="359.5" cy="306.6" r="1.5" class="dl"/>
<circle cx="343.3" cy="311.4" r="1.5" class="dl"/>
<circle cx="353.4" cy="311.4" r="1.5" class="dl"/>
<circle cx="334.2" cy="314.7" r="1.5" class="dl"/>
<circle cx="348.4" cy="314.7" r="1.5" class="dl"/>
<circle cx="363.5" cy="316.2" r="1.5" class="dl"/>
<circle cx="371.4" cy="315.5" r="1.5" class="dl"/>
<circle cx="326.7" cy="318.7" r="1.5" class="dl"/>
<circle cx="331.1" cy="323.1" r="1.5" class="dl"/>
<circle cx="336.5" cy="321.7" r="1.5" class="dl"/>
<circle cx="346.0" cy="323.1" r="1.5" class="dl"/>
<circle cx="351.9" cy="323.1" r="1.5" class="dl"/>
<circle cx="324.3" cy="326.8" r="1.5" class="dl"/>
<circle cx="338.2" cy="328.7" r="1.5" class="dl"/>
<circle cx="344.5" cy="330.1" r="1.5" class="dl"/>
<circle cx="346.3" cy="327.9" r="1.5" class="dl"/>
<circle cx="353.4" cy="328.7" r="1.5" class="dl"/>
<circle cx="359.5" cy="330.1" r="1.5" class="dl"/>
<circle cx="367.6" cy="328.7" r="1.5" class="dl"/>
<circle cx="375.3" cy="327.9" r="1.5" class="dl"/>
<circle cx="325.9" cy="337.9" r="1.5" class="dl"/>
<circle cx="330.6" cy="337.1" r="1.5" class="dl"/>
<circle cx="335.6" cy="334.6" r="1.5" class="dl"/>
<circle cx="340.1" cy="333.5" r="1.5" class="dl"/>
<circle cx="344.5" cy="337.9" r="1.5" class="dl"/>
<circle cx="346.0" cy="341.0" r="1.5" class="dl"/>
<circle cx="352.4" cy="338.2" r="1.5" class="dl"/>
<circle cx="359.5" cy="341.7" r="1.5" class="dl"/>
<circle cx="367.6" cy="339.8" r="1.5" class="dl"/>
<circle cx="330.6" cy="342.9" r="1.5" class="dl"/>
<circle cx="340.9" cy="345.8" r="1.5" class="dl"/>
<circle cx="367.0" cy="346.9" r="1.5" class="dl"/>
<circle cx="330.2" cy="351.3" r="1.5" class="dl"/>
<circle cx="334.4" cy="350.2" r="1.5" class="dl"/>
<circle cx="348.4" cy="349.1" r="1.5" class="dl"/>
<circle cx="337.4" cy="354.9" r="1.5" class="dl"/>
<circle cx="344.5" cy="352.7" r="1.5" class="dl"/>
<circle cx="352.4" cy="353.8" r="1.5" class="dl"/>
<circle cx="324.3" cy="358.8" r="1.5" class="dl"/>
<circle cx="324.3" cy="362.1" r="1.5" class="dl"/>
<circle cx="362.9" cy="357.3" r="1.5" class="dl"/>
<circle cx="332.6" cy="364.0" r="1.5" class="dl"/>
<circle cx="337.4" cy="365.1" r="1.5" class="dl"/>
<circle cx="343.9" cy="362.1" r="1.5" class="dl"/>
<circle cx="354.8" cy="364.4" r="1.5" class="dl"/>
<circle cx="324.3" cy="371.6" r="1.5" class="dl"/>
<circle cx="336.5" cy="373.6" r="1.5" class="dl"/>
<circle cx="337.7" cy="374.9" r="1.5" class="dl"/>
<circle cx="344.5" cy="370.7" r="1.5" class="dl"/>
<circle cx="350.8" cy="377.4" r="1.5" class="dl"/>
<circle cx="359.5" cy="378.3" r="1.5" class="dl"/>
<circle cx="329.6" cy="381.7" r="1.5" class="dl"/>
<circle cx="330.6" cy="384.5" r="1.5" class="dl"/>
<circle cx="324.3" cy="384.5" r="1.5" class="dl"/>
<circle cx="340.9" cy="386.7" r="1.5" class="dl"/>
<circle cx="347.7" cy="388.0" r="1.5" class="dl"/>
<circle cx="343.9" cy="391.1" r="1.5" class="dl"/>
<circle cx="353.6" cy="394.7" r="1.5" class="dl"/>
<circle cx="324.7" cy="400.9" r="1.5" class="dl"/>
<circle cx="333.0" cy="400.9" r="1.5" class="dl"/>
<circle cx="340.1" cy="402.1" r="1.5" class="dl"/>
<circle cx="346.0" cy="404.3" r="1.5" class="dl"/>
<circle cx="326.7" cy="411.4" r="1.5" class="dl"/>
<circle cx="336.5" cy="416.2" r="1.5" class="dl"/>
<circle cx="343.9" cy="421.0" r="1.5" class="dl"/>
<circle cx="324.7" cy="423.5" r="1.5" class="dl"/>
<line x1="92.6" y1="161.2" x2="385.3" y2="338.5" class="tr" stroke="#ABABAB"/>
<circle cx="535.8" cy="130.8" r="1.5" class="dr" stroke="#5787C0" fill="#DAE5F1"/>
<circle cx="547.0" cy="131.9" r="1.5" class="dr" stroke="#5787C0" fill="#DAE5F1"/>
<circle cx="552.9" cy="131.9" r="1.5" class="dr" stroke="#5787C0" fill="#DAE5F1"/>
<circle cx="540.8" cy="136.7" r="1.5" class="dr" stroke="#5787C0" fill="#DAE5F1"/>
<circle cx="544.7" cy="136.7" r="1.5" class="dr" stroke="#5787C0" fill="#DAE5F1"/>
<circle cx="550.0" cy="136.7" r="1.5" class="dr" stroke="#5787C0" fill="#DAE5F1"/>
<circle cx="558.1" cy="135.6" r="1.5" class="dr" stroke="#5787C0" fill="#DAE5F1"/>
<circle cx="557.5" cy="139.1" r="1.5" class="dr" stroke="#5787C0" fill="#DAE5F1"/>
<circle cx="554.8" cy="142.5" r="1.5" class="dr" stroke="#5787C0" fill="#DAE5F1"/>
<circle cx="560.0" cy="145.8" r="1.5" class="dr" stroke="#5787C0" fill="#DAE5F1"/>
<circle cx="522.5" cy="148.6" r="1.5" class="dr" stroke="#5787C0" fill="#DAE5F1"/>
<circle cx="528.3" cy="149.7" r="1.5" class="dr" stroke="#5787C0" fill="#DAE5F1"/>
<circle cx="540.3" cy="150.3" r="1.5" class="dr" stroke="#5787C0" fill="#DAE5F1"/>
<circle cx="547.7" cy="148.6" r="1.5" class="dr" stroke="#5787C0" fill="#DAE5F1"/>
<circle cx="553.1" cy="148.4" r="1.5" class="dr" stroke="#5787C0" fill="#DAE5F1"/>
<circle cx="555.9" cy="149.7" r="1.5" class="dr" stroke="#5787C0" fill="#DAE5F1"/>
<circle cx="533.0" cy="154.4" r="1.5" class="dr" stroke="#5787C0" fill="#DAE5F1"/>
<circle cx="515.0" cy="156.7" r="1.5" class="dr" stroke="#5787C0" fill="#DAE5F1"/>
<circle cx="537.5" cy="157.5" r="1.5" class="dr" stroke="#5787C0" fill="#DAE5F1"/>
<circle cx="545.3" cy="157.9" r="1.5" class="dr" stroke="#5787C0" fill="#DAE5F1"/>
<circle cx="549.8" cy="157.9" r="1.5" class="dr" stroke="#5787C0" fill="#DAE5F1"/>
<circle cx="557.5" cy="158.1" r="1.5" class="dr" stroke="#5787C0" fill="#DAE5F1"/>
<circle cx="520.2" cy="160.5" r="1.5" class="dr" stroke="#5787C0" fill="#DAE5F1"/>
<circle cx="539.2" cy="160.5" r="1.5" class="dr" stroke="#5787C0" fill="#DAE5F1"/>
<circle cx="541.9" cy="163.7" r="1.5" class="dr" stroke="#5787C0" fill="#DAE5F1"/>
<circle cx="528.3" cy="164.8" r="1.5" class="dr" stroke="#5787C0" fill="#DAE5F1"/>
<circle cx="549.2" cy="164.8" r="1.5" class="dr" stroke="#5787C0" fill="#DAE5F1"/>
<circle cx="554.2" cy="164.8" r="1.5" class="dr" stroke="#5787C0" fill="#DAE5F1"/>
<circle cx="533.0" cy="166.4" r="1.5" class="dr" stroke="#5787C0" fill="#DAE5F1"/>
<circle cx="558.7" cy="166.4" r="1.5" class="dr" stroke="#5787C0" fill="#DAE5F1"/>
<circle cx="529.7" cy="170.6" r="1.5" class="dr" stroke="#5787C0" fill="#DAE5F1"/>
<circle cx="533.0" cy="169.0" r="1.5" class="dr" stroke="#5787C0" fill="#DAE5F1"/>
<circle cx="535.8" cy="170.1" r="1.5" class="dr" stroke="#5787C0" fill="#DAE5F1"/>
<circle cx="540.8" cy="172.0" r="1.5" class="dr" stroke="#5787C0" fill="#DAE5F1"/>
<circle cx="544.7" cy="170.9" r="1.5" class="dr" stroke="#5787C0" fill="#DAE5F1"/>
<circle cx="556.4" cy="170.9" r="1.5" class="dr" stroke="#5787C0" fill="#DAE5F1"/>
<circle cx="522.5" cy="175.9" r="1.5" class="dr" stroke="#5787C0" fill="#DAE5F1"/>
<circle cx="542.5" cy="175.9" r="1.5" class="dr" stroke="#5787C0" fill="#DAE5F1"/>
<circle cx="550.3" cy="175.7" r="1.5" class="dr" stroke="#5787C0" fill="#DAE5F1"/>
<circle cx="552.0" cy="174.2" r="1.5" class="dr" stroke="#5787C0" fill="#DAE5F1"/>
<circle cx="559.8" cy="176.5" r="1.5" class="dr" stroke="#5787C0" fill="#DAE5F1"/>
<circle cx="520.2" cy="180.2" r="1.5" class="dr" stroke="#5787C0" fill="#DAE5F1"/>
<circle cx="527.5" cy="180.4" r="1.5" class="dr" stroke="#5787C0" fill="#DAE5F1"/>
<circle cx="531.9" cy="181.3" r="1.5" class="dr" stroke="#5787C0" fill="#DAE5F1"/>
<circle cx="538.6" cy="179.3" r="1.5" class="dr" stroke="#5787C0" fill="#DAE5F1"/>
<circle cx="543.6" cy="178.4" r="1.5" class="dr" stroke="#5787C0" fill="#DAE5F1"/>
<circle cx="547.0" cy="179.5" r="1.5" class="dr" stroke="#5787C0" fill="#DAE5F1"/>
<circle cx="551.4" cy="181.3" r="1.5" class="dr" stroke="#5787C0" fill="#DAE5F1"/>
<circle cx="522.5" cy="183.7" r="1.5" class="dr" stroke="#5787C0" fill="#DAE5F1"/>
<circle cx="530.8" cy="183.2" r="1.5" class="dr" stroke="#5787C0" fill="#DAE5F1"/>
<circle cx="532.5" cy="185.4" r="1.5" class="dr" stroke="#5787C0" fill="#DAE5F1"/>
<circle cx="541.9" cy="185.0" r="1.5" class="dr" stroke="#5787C0" fill="#DAE5F1"/>
<circle cx="551.4" cy="184.3" r="1.5" class="dr" stroke="#5787C0" fill="#DAE5F1"/>
<circle cx="557.0" cy="184.8" r="1.5" class="dr" stroke="#5787C0" fill="#DAE5F1"/>
<circle cx="559.8" cy="185.4" r="1.5" class="dr" stroke="#5787C0" fill="#DAE5F1"/>
<circle cx="505.7" cy="189.3" r="1.5" class="dr" stroke="#5787C0" fill="#DAE5F1"/>
<circle cx="535.8" cy="189.3" r="1.5" class="dr" stroke="#5787C0" fill="#DAE5F1"/>
<circle cx="547.5" cy="187.6" r="1.5" class="dr" stroke="#5787C0" fill="#DAE5F1"/>
<circle cx="508.5" cy="193.0" r="1.5" class="dr" stroke="#5787C0" fill="#DAE5F1"/>
<circle cx="522.5" cy="191.9" r="1.5" class="dr" stroke="#5787C0" fill="#DAE5F1"/>
<circle cx="530.2" cy="193.0" r="1.5" class="dr" stroke="#5787C0" fill="#DAE5F1"/>
<circle cx="535.8" cy="195.7" r="1.5" class="dr" stroke="#5787C0" fill="#DAE5F1"/>
<circle cx="543.6" cy="193.0" r="1.5" class="dr" stroke="#5787C0" fill="#DAE5F1"/>
<circle cx="550.6" cy="194.3" r="1.5" class="dr" stroke="#5787C0" fill="#DAE5F1"/>
<circle cx="509.9" cy="199.0" r="1.5" class="dr" stroke="#5787C0" fill="#DAE5F1"/>
<circle cx="516.9" cy="197.9" r="1.5" class="dr" stroke="#5787C0" fill="#DAE5F1"/>
<circle cx="526.9" cy="200.5" r="1.5" class="dr" stroke="#5787C0" fill="#DAE5F1"/>
<circle cx="533.0" cy="200.5" r="1.5" class="dr" stroke="#5787C0" fill="#DAE5F1"/>
<circle cx="538.6" cy="200.5" r="1.5" class="dr" stroke="#5787C0" fill="#DAE5F1"/>
<circle cx="547.7" cy="199.0" r="1.5" class="dr" stroke="#5787C0" fill="#DAE5F1"/>
<circle cx="554.4" cy="201.6" r="1.5" class="dr" stroke="#5787C0" fill="#DAE5F1"/>
<circle cx="515.0" cy="204.2" r="1.5" class="dr" stroke="#5787C0" fill="#DAE5F1"/>
<circle cx="526.1" cy="205.3" r="1.5" class="dr" stroke="#5787C0" fill="#DAE5F1"/>
<circle cx="538.0" cy="206.4" r="1.5" class="dr" stroke="#5787C0" fill="#DAE5F1"/>
<circle cx="548.4" cy="207.5" r="1.5" class="dr" stroke="#5787C0" fill="#DAE5F1"/>
<circle cx="498.7" cy="212.0" r="1.5" class="dr" stroke="#5787C0" fill="#DAE5F1"/>
<circle cx="505.4" cy="212.0" r="1.5" class="dr" stroke="#5787C0" fill="#DAE5F1"/>
<circle cx="518.3" cy="212.0" r="1.5" class="dr" stroke="#5787C0" fill="#DAE5F1"/>
<circle cx="521.9" cy="215.5" r="1.5" class="dr" stroke="#5787C0" fill="#DAE5F1"/>
<circle cx="527.7" cy="210.8" r="1.5" class="dr" stroke="#5787C0" fill="#DAE5F1"/>
<circle cx="530.2" cy="217.2" r="1.5" class="dr" stroke="#5787C0" fill="#DAE5F1"/>
<circle cx="535.3" cy="213.3" r="1.5" class="dr" stroke="#5787C0" fill="#DAE5F1"/>
<circle cx="538.4" cy="213.3" r="1.5" class="dr" stroke="#5787C0" fill="#DAE5F1"/>
<circle cx="513.5" cy="220.2" r="1.5" class="dr" stroke="#5787C0" fill="#DAE5F1"/>
<circle cx="519.7" cy="222.8" r="1.5" class="dr" stroke="#5787C0" fill="#DAE5F1"/>
<circle cx="542.5" cy="222.8" r="1.5" class="dr" stroke="#5787C0" fill="#DAE5F1"/>
<circle cx="532.1" cy="228.7" r="1.5" class="dr" stroke="#5787C0" fill="#DAE5F1"/>
<circle cx="502.4" cy="232.2" r="1.5" class="dr" stroke="#5787C0" fill="#DAE5F1"/>
<circle cx="514.1" cy="231.1" r="1.5" class="dr" stroke="#5787C0" fill="#DAE5F1"/>
<circle cx="524.1" cy="233.3" r="1.5" class="dr" stroke="#5787C0" fill="#DAE5F1"/>
<circle cx="520.2" cy="240.3" r="1.5" class="dr" stroke="#5787C0" fill="#DAE5F1"/>
<circle cx="559.8" cy="194.3" r="1.5" class="dr" stroke="#D8804C" fill="#F6E3D8"/>
<circle cx="559.6" cy="201.3" r="1.5" class="dr" stroke="#D8804C" fill="#F6E3D8"/>
<circle cx="551.4" cy="209.9" r="1.5" class="dr" stroke="#D8804C" fill="#F6E3D8"/>
<circle cx="551.4" cy="222.8" r="1.5" class="dr" stroke="#D8804C" fill="#F6E3D8"/>
<circle cx="557.5" cy="245.0" r="1.5" class="dr" stroke="#D8804C" fill="#F6E3D8"/>
<circle cx="550.9" cy="252.1" r="1.5" class="dr" stroke="#D8804C" fill="#F6E3D8"/>
<circle cx="527.7" cy="254.9" r="1.5" class="dr" stroke="#D8804C" fill="#F6E3D8"/>
<circle cx="532.1" cy="261.8" r="1.5" class="dr" stroke="#D8804C" fill="#F6E3D8"/>
<circle cx="556.7" cy="259.3" r="1.5" class="dr" stroke="#D8804C" fill="#F6E3D8"/>
<circle cx="544.2" cy="265.1" r="1.5" class="dr" stroke="#D8804C" fill="#F6E3D8"/>
<circle cx="555.9" cy="273.2" r="1.5" class="dr" stroke="#D8804C" fill="#F6E3D8"/>
<circle cx="543.3" cy="279.4" r="1.5" class="dr" stroke="#D8804C" fill="#F6E3D8"/>
<circle cx="533.6" cy="283.9" r="1.5" class="dr" stroke="#D8804C" fill="#F6E3D8"/>
<circle cx="553.1" cy="285.4" r="1.5" class="dr" stroke="#D8804C" fill="#F6E3D8"/>
<circle cx="547.0" cy="292.4" r="1.5" class="dr" stroke="#D8804C" fill="#F6E3D8"/>
<circle cx="557.0" cy="297.2" r="1.5" class="dr" stroke="#D8804C" fill="#F6E3D8"/>
<circle cx="576.0" cy="131.9" r="1.5" class="dr" stroke="#5787C0" fill="#DAE5F1"/>
<circle cx="562.7" cy="139.1" r="1.5" class="dr" stroke="#5787C0" fill="#DAE5F1"/>
<circle cx="570.1" cy="137.8" r="1.5" class="dr" stroke="#5787C0" fill="#DAE5F1"/>
<circle cx="577.7" cy="136.4" r="1.5" class="dr" stroke="#5787C0" fill="#DAE5F1"/>
<circle cx="581.6" cy="142.5" r="1.5" class="dr" stroke="#5787C0" fill="#DAE5F1"/>
<circle cx="568.8" cy="144.7" r="1.5" class="dr" stroke="#5787C0" fill="#DAE5F1"/>
<circle cx="564.3" cy="148.1" r="1.5" class="dr" stroke="#5787C0" fill="#DAE5F1"/>
<circle cx="572.7" cy="149.4" r="1.5" class="dr" stroke="#5787C0" fill="#DAE5F1"/>
<circle cx="578.3" cy="153.4" r="1.5" class="dr" stroke="#5787C0" fill="#DAE5F1"/>
<circle cx="563.8" cy="157.0" r="1.5" class="dr" stroke="#5787C0" fill="#DAE5F1"/>
<circle cx="567.1" cy="160.3" r="1.5" class="dr" stroke="#5787C0" fill="#DAE5F1"/>
<circle cx="570.1" cy="161.4" r="1.5" class="dr" stroke="#5787C0" fill="#DAE5F1"/>
<circle cx="575.3" cy="159.0" r="1.5" class="dr" stroke="#5787C0" fill="#DAE5F1"/>
<circle cx="568.2" cy="169.8" r="1.5" class="dr" stroke="#5787C0" fill="#DAE5F1"/>
<circle cx="573.8" cy="169.8" r="1.5" class="dr" stroke="#5787C0" fill="#DAE5F1"/>
<circle cx="572.7" cy="172.0" r="1.5" class="dr" stroke="#5787C0" fill="#DAE5F1"/>
<circle cx="563.2" cy="172.0" r="1.5" class="dr" stroke="#5787C0" fill="#DAE5F1"/>
<circle cx="562.7" cy="175.9" r="1.5" class="dr" stroke="#5787C0" fill="#DAE5F1"/>
<circle cx="564.3" cy="174.2" r="1.5" class="dr" stroke="#5787C0" fill="#DAE5F1"/>
<circle cx="566.0" cy="183.7" r="1.5" class="dr" stroke="#5787C0" fill="#DAE5F1"/>
<circle cx="614.5" cy="140.3" r="1.5" class="dr" stroke="#D8804C" fill="#F6E3D8"/>
<circle cx="627.9" cy="140.3" r="1.5" class="dr" stroke="#D8804C" fill="#F6E3D8"/>
<circle cx="634.3" cy="141.4" r="1.5" class="dr" stroke="#D8804C" fill="#F6E3D8"/>
<circle cx="606.1" cy="144.9" r="1.5" class="dr" stroke="#D8804C" fill="#F6E3D8"/>
<circle cx="596.4" cy="154.4" r="1.5" class="dr" stroke="#D8804C" fill="#F6E3D8"/>
<circle cx="609.5" cy="153.4" r="1.5" class="dr" stroke="#D8804C" fill="#F6E3D8"/>
<circle cx="618.1" cy="150.8" r="1.5" class="dr" stroke="#D8804C" fill="#F6E3D8"/>
<circle cx="627.0" cy="150.8" r="1.5" class="dr" stroke="#D8804C" fill="#F6E3D8"/>
<circle cx="635.1" cy="152.3" r="1.5" class="dr" stroke="#D8804C" fill="#F6E3D8"/>
<circle cx="606.1" cy="163.7" r="1.5" class="dr" stroke="#D8804C" fill="#F6E3D8"/>
<circle cx="598.9" cy="167.2" r="1.5" class="dr" stroke="#D8804C" fill="#F6E3D8"/>
<circle cx="615.8" cy="166.1" r="1.5" class="dr" stroke="#D8804C" fill="#F6E3D8"/>
<circle cx="624.0" cy="163.7" r="1.5" class="dr" stroke="#D8804C" fill="#F6E3D8"/>
<circle cx="631.0" cy="170.9" r="1.5" class="dr" stroke="#D8804C" fill="#F6E3D8"/>
<circle cx="592.8" cy="172.0" r="1.5" class="dr" stroke="#D8804C" fill="#F6E3D8"/>
<circle cx="602.8" cy="176.5" r="1.5" class="dr" stroke="#D8804C" fill="#F6E3D8"/>
<circle cx="606.9" cy="174.6" r="1.5" class="dr" stroke="#D8804C" fill="#F6E3D8"/>
<circle cx="614.3" cy="178.2" r="1.5" class="dr" stroke="#D8804C" fill="#F6E3D8"/>
<circle cx="616.5" cy="178.7" r="1.5" class="dr" stroke="#D8804C" fill="#F6E3D8"/>
<circle cx="622.8" cy="178.2" r="1.5" class="dr" stroke="#D8804C" fill="#F6E3D8"/>
<circle cx="588.6" cy="180.2" r="1.5" class="dr" stroke="#D8804C" fill="#F6E3D8"/>
<circle cx="594.4" cy="184.8" r="1.5" class="dr" stroke="#D8804C" fill="#F6E3D8"/>
<circle cx="596.9" cy="182.6" r="1.5" class="dr" stroke="#D8804C" fill="#F6E3D8"/>
<circle cx="591.1" cy="188.7" r="1.5" class="dr" stroke="#D8804C" fill="#F6E3D8"/>
<circle cx="599.4" cy="189.3" r="1.5" class="dr" stroke="#D8804C" fill="#F6E3D8"/>
<circle cx="607.3" cy="189.3" r="1.5" class="dr" stroke="#D8804C" fill="#F6E3D8"/>
<circle cx="610.0" cy="188.7" r="1.5" class="dr" stroke="#D8804C" fill="#F6E3D8"/>
<circle cx="612.3" cy="189.3" r="1.5" class="dr" stroke="#D8804C" fill="#F6E3D8"/>
<circle cx="624.0" cy="188.4" r="1.5" class="dr" stroke="#D8804C" fill="#F6E3D8"/>
<circle cx="628.4" cy="187.1" r="1.5" class="dr" stroke="#D8804C" fill="#F6E3D8"/>
<circle cx="574.9" cy="190.4" r="1.5" class="dr" stroke="#D8804C" fill="#F6E3D8"/>
<circle cx="574.4" cy="191.6" r="1.5" class="dr" stroke="#D8804C" fill="#F6E3D8"/>
<circle cx="582.2" cy="193.0" r="1.5" class="dr" stroke="#D8804C" fill="#F6E3D8"/>
<circle cx="585.7" cy="192.7" r="1.5" class="dr" stroke="#D8804C" fill="#F6E3D8"/>
<circle cx="603.3" cy="193.0" r="1.5" class="dr" stroke="#D8804C" fill="#F6E3D8"/>
<circle cx="607.8" cy="191.9" r="1.5" class="dr" stroke="#D8804C" fill="#F6E3D8"/>
<circle cx="577.9" cy="200.8" r="1.5" class="dr" stroke="#D8804C" fill="#F6E3D8"/>
<circle cx="589.4" cy="198.8" r="1.5" class="dr" stroke="#D8804C" fill="#F6E3D8"/>
<circle cx="594.2" cy="200.1" r="1.5" class="dr" stroke="#D8804C" fill="#F6E3D8"/>
<circle cx="593.9" cy="202.7" r="1.5" class="dr" stroke="#D8804C" fill="#F6E3D8"/>
<circle cx="599.4" cy="199.0" r="1.5" class="dr" stroke="#D8804C" fill="#F6E3D8"/>
<circle cx="606.9" cy="198.8" r="1.5" class="dr" stroke="#D8804C" fill="#F6E3D8"/>
<circle cx="612.5" cy="196.8" r="1.5" class="dr" stroke="#D8804C" fill="#F6E3D8"/>
<circle cx="616.2" cy="196.8" r="1.5" class="dr" stroke="#D8804C" fill="#F6E3D8"/>
<circle cx="622.8" cy="197.9" r="1.5" class="dr" stroke="#D8804C" fill="#F6E3D8"/>
<circle cx="574.6" cy="207.5" r="1.5" class="dr" stroke="#D8804C" fill="#F6E3D8"/>
<circle cx="584.6" cy="204.9" r="1.5" class="dr" stroke="#D8804C" fill="#F6E3D8"/>
<circle cx="586.9" cy="204.6" r="1.5" class="dr" stroke="#D8804C" fill="#F6E3D8"/>
<circle cx="588.9" cy="207.5" r="1.5" class="dr" stroke="#D8804C" fill="#F6E3D8"/>
<circle cx="594.2" cy="206.4" r="1.5" class="dr" stroke="#D8804C" fill="#F6E3D8"/>
<circle cx="599.8" cy="206.0" r="1.5" class="dr" stroke="#D8804C" fill="#F6E3D8"/>
<circle cx="598.3" cy="208.6" r="1.5" class="dr" stroke="#D8804C" fill="#F6E3D8"/>
<circle cx="605.8" cy="209.4" r="1.5" class="dr" stroke="#D8804C" fill="#F6E3D8"/>
<circle cx="607.3" cy="210.8" r="1.5" class="dr" stroke="#D8804C" fill="#F6E3D8"/>
<circle cx="611.7" cy="207.2" r="1.5" class="dr" stroke="#D8804C" fill="#F6E3D8"/>
<circle cx="602.0" cy="212.0" r="1.5" class="dr" stroke="#D8804C" fill="#F6E3D8"/>
<circle cx="581.3" cy="209.7" r="1.5" class="dr" stroke="#D8804C" fill="#F6E3D8"/>
<circle cx="583.3" cy="208.6" r="1.5" class="dr" stroke="#D8804C" fill="#F6E3D8"/>
<circle cx="589.1" cy="214.2" r="1.5" class="dr" stroke="#D8804C" fill="#F6E3D8"/>
<circle cx="595.0" cy="214.6" r="1.5" class="dr" stroke="#D8804C" fill="#F6E3D8"/>
<circle cx="572.1" cy="217.7" r="1.5" class="dr" stroke="#D8804C" fill="#F6E3D8"/>
<circle cx="583.8" cy="217.2" r="1.5" class="dr" stroke="#D8804C" fill="#F6E3D8"/>
<circle cx="584.4" cy="218.9" r="1.5" class="dr" stroke="#D8804C" fill="#F6E3D8"/>
<circle cx="588.3" cy="219.7" r="1.5" class="dr" stroke="#D8804C" fill="#F6E3D8"/>
<circle cx="591.1" cy="218.9" r="1.5" class="dr" stroke="#D8804C" fill="#F6E3D8"/>
<circle cx="593.5" cy="220.2" r="1.5" class="dr" stroke="#D8804C" fill="#F6E3D8"/>
<circle cx="598.9" cy="217.2" r="1.5" class="dr" stroke="#D8804C" fill="#F6E3D8"/>
<circle cx="600.6" cy="218.6" r="1.5" class="dr" stroke="#D8804C" fill="#F6E3D8"/>
<circle cx="601.3" cy="220.5" r="1.5" class="dr" stroke="#D8804C" fill="#F6E3D8"/>
<circle cx="607.8" cy="220.2" r="1.5" class="dr" stroke="#D8804C" fill="#F6E3D8"/>
<circle cx="585.0" cy="222.8" r="1.5" class="dr" stroke="#D8804C" fill="#F6E3D8"/>
<circle cx="592.8" cy="224.6" r="1.5" class="dr" stroke="#D8804C" fill="#F6E3D8"/>
<circle cx="600.2" cy="223.5" r="1.5" class="dr" stroke="#D8804C" fill="#F6E3D8"/>
<circle cx="577.5" cy="224.4" r="1.5" class="dr" stroke="#D8804C" fill="#F6E3D8"/>
<circle cx="578.8" cy="229.4" r="1.5" class="dr" stroke="#D8804C" fill="#F6E3D8"/>
<circle cx="570.1" cy="228.7" r="1.5" class="dr" stroke="#D8804C" fill="#F6E3D8"/>
<circle cx="585.7" cy="232.2" r="1.5" class="dr" stroke="#D8804C" fill="#F6E3D8"/>
<circle cx="598.3" cy="228.3" r="1.5" class="dr" stroke="#D8804C" fill="#F6E3D8"/>
<circle cx="562.1" cy="233.1" r="1.5" class="dr" stroke="#D8804C" fill="#F6E3D8"/>
<circle cx="579.9" cy="237.6" r="1.5" class="dr" stroke="#D8804C" fill="#F6E3D8"/>
<circle cx="577.7" cy="240.0" r="1.5" class="dr" stroke="#D8804C" fill="#F6E3D8"/>
<circle cx="581.1" cy="240.6" r="1.5" class="dr" stroke="#D8804C" fill="#F6E3D8"/>
<circle cx="584.4" cy="240.0" r="1.5" class="dr" stroke="#D8804C" fill="#F6E3D8"/>
<circle cx="596.4" cy="236.7" r="1.5" class="dr" stroke="#D8804C" fill="#F6E3D8"/>
<circle cx="572.1" cy="242.5" r="1.5" class="dr" stroke="#D8804C" fill="#F6E3D8"/>
<circle cx="592.8" cy="242.5" r="1.5" class="dr" stroke="#D8804C" fill="#F6E3D8"/>
<circle cx="585.7" cy="247.6" r="1.5" class="dr" stroke="#D8804C" fill="#F6E3D8"/>
<circle cx="574.6" cy="251.0" r="1.5" class="dr" stroke="#D8804C" fill="#F6E3D8"/>
<circle cx="564.9" cy="252.1" r="1.5" class="dr" stroke="#D8804C" fill="#F6E3D8"/>
<circle cx="632.9" cy="206.0" r="1.5" class="dr" stroke="#E8BE3A" fill="#FAF1D4"/>
<circle cx="622.1" cy="208.8" r="1.5" class="dr" stroke="#E8BE3A" fill="#FAF1D4"/>
<circle cx="615.0" cy="215.5" r="1.5" class="dr" stroke="#E8BE3A" fill="#FAF1D4"/>
<circle cx="625.6" cy="221.6" r="1.5" class="dr" stroke="#E8BE3A" fill="#FAF1D4"/>
<circle cx="634.6" cy="221.6" r="1.5" class="dr" stroke="#E8BE3A" fill="#FAF1D4"/>
<circle cx="629.2" cy="226.7" r="1.5" class="dr" stroke="#E8BE3A" fill="#FAF1D4"/>
<circle cx="617.6" cy="228.9" r="1.5" class="dr" stroke="#E8BE3A" fill="#FAF1D4"/>
<circle cx="624.3" cy="231.1" r="1.5" class="dr" stroke="#E8BE3A" fill="#FAF1D4"/>
<circle cx="634.6" cy="229.4" r="1.5" class="dr" stroke="#E8BE3A" fill="#FAF1D4"/>
<circle cx="610.0" cy="236.9" r="1.5" class="dr" stroke="#E8BE3A" fill="#FAF1D4"/>
<circle cx="629.2" cy="237.8" r="1.5" class="dr" stroke="#E8BE3A" fill="#FAF1D4"/>
<circle cx="633.4" cy="239.1" r="1.5" class="dr" stroke="#E8BE3A" fill="#FAF1D4"/>
<circle cx="603.3" cy="242.5" r="1.5" class="dr" stroke="#E8BE3A" fill="#FAF1D4"/>
<circle cx="614.5" cy="245.8" r="1.5" class="dr" stroke="#E8BE3A" fill="#FAF1D4"/>
<circle cx="625.1" cy="245.0" r="1.5" class="dr" stroke="#E8BE3A" fill="#FAF1D4"/>
<circle cx="635.4" cy="245.4" r="1.5" class="dr" stroke="#E8BE3A" fill="#FAF1D4"/>
<circle cx="624.0" cy="249.2" r="1.5" class="dr" stroke="#E8BE3A" fill="#FAF1D4"/>
<circle cx="631.8" cy="248.7" r="1.5" class="dr" stroke="#E8BE3A" fill="#FAF1D4"/>
<circle cx="596.4" cy="249.5" r="1.5" class="dr" stroke="#E8BE3A" fill="#FAF1D4"/>
<circle cx="565.2" cy="259.0" r="1.5" class="dr" stroke="#D8804C" fill="#F6E3D8"/>
<circle cx="569.0" cy="261.8" r="1.5" class="dr" stroke="#D8804C" fill="#F6E3D8"/>
<circle cx="577.9" cy="258.2" r="1.5" class="dr" stroke="#D8804C" fill="#F6E3D8"/>
<circle cx="577.5" cy="262.9" r="1.5" class="dr" stroke="#D8804C" fill="#F6E3D8"/>
<circle cx="585.5" cy="258.2" r="1.5" class="dr" stroke="#D8804C" fill="#F6E3D8"/>
<circle cx="565.2" cy="272.1" r="1.5" class="dr" stroke="#D8804C" fill="#F6E3D8"/>
<circle cx="574.4" cy="276.1" r="1.5" class="dr" stroke="#D8804C" fill="#F6E3D8"/>
<circle cx="563.2" cy="283.2" r="1.5" class="dr" stroke="#D8804C" fill="#F6E3D8"/>
<circle cx="568.2" cy="283.2" r="1.5" class="dr" stroke="#D8804C" fill="#F6E3D8"/>
<circle cx="598.9" cy="259.0" r="1.5" class="dr" stroke="#E8BE3A" fill="#FAF1D4"/>
<circle cx="610.2" cy="258.2" r="1.5" class="dr" stroke="#E8BE3A" fill="#FAF1D4"/>
<circle cx="616.5" cy="258.2" r="1.5" class="dr" stroke="#E8BE3A" fill="#FAF1D4"/>
<circle cx="627.9" cy="258.2" r="1.5" class="dr" stroke="#E8BE3A" fill="#FAF1D4"/>
<circle cx="630.6" cy="254.9" r="1.5" class="dr" stroke="#E8BE3A" fill="#FAF1D4"/>
<circle cx="631.4" cy="262.7" r="1.5" class="dr" stroke="#E8BE3A" fill="#FAF1D4"/>
<circle cx="635.9" cy="260.1" r="1.5" class="dr" stroke="#E8BE3A" fill="#FAF1D4"/>
<circle cx="624.7" cy="265.4" r="1.5" class="dr" stroke="#E8BE3A" fill="#FAF1D4"/>
<circle cx="615.4" cy="266.8" r="1.5" class="dr" stroke="#E8BE3A" fill="#FAF1D4"/>
<circle cx="633.7" cy="270.2" r="1.5" class="dr" stroke="#E8BE3A" fill="#FAF1D4"/>
<circle cx="601.1" cy="272.1" r="1.5" class="dr" stroke="#E8BE3A" fill="#FAF1D4"/>
<circle cx="586.4" cy="273.2" r="1.5" class="dr" stroke="#E8BE3A" fill="#FAF1D4"/>
<circle cx="612.0" cy="275.7" r="1.5" class="dr" stroke="#E8BE3A" fill="#FAF1D4"/>
<circle cx="623.6" cy="275.0" r="1.5" class="dr" stroke="#E8BE3A" fill="#FAF1D4"/>
<circle cx="624.0" cy="278.0" r="1.5" class="dr" stroke="#E8BE3A" fill="#FAF1D4"/>
<circle cx="616.5" cy="280.5" r="1.5" class="dr" stroke="#E8BE3A" fill="#FAF1D4"/>
<circle cx="630.6" cy="283.0" r="1.5" class="dr" stroke="#E8BE3A" fill="#FAF1D4"/>
<circle cx="628.4" cy="285.4" r="1.5" class="dr" stroke="#E8BE3A" fill="#FAF1D4"/>
<circle cx="599.1" cy="287.7" r="1.5" class="dr" stroke="#E8BE3A" fill="#FAF1D4"/>
<circle cx="607.8" cy="291.0" r="1.5" class="dr" stroke="#E8BE3A" fill="#FAF1D4"/>
<circle cx="615.4" cy="289.9" r="1.5" class="dr" stroke="#E8BE3A" fill="#FAF1D4"/>
<circle cx="585.0" cy="292.4" r="1.5" class="dr" stroke="#E8BE3A" fill="#FAF1D4"/>
<circle cx="593.5" cy="293.2" r="1.5" class="dr" stroke="#E8BE3A" fill="#FAF1D4"/>
<circle cx="620.3" cy="294.3" r="1.5" class="dr" stroke="#E8BE3A" fill="#FAF1D4"/>
<circle cx="609.1" cy="297.2" r="1.5" class="dr" stroke="#E8BE3A" fill="#FAF1D4"/>
<circle cx="601.1" cy="299.1" r="1.5" class="dr" stroke="#E8BE3A" fill="#FAF1D4"/>
<circle cx="574.6" cy="307.7" r="1.5" class="dr" stroke="#E8BE3A" fill="#FAF1D4"/>
<circle cx="590.2" cy="307.3" r="1.5" class="dr" stroke="#E8BE3A" fill="#FAF1D4"/>
<circle cx="600.0" cy="307.7" r="1.5" class="dr" stroke="#E8BE3A" fill="#FAF1D4"/>
<circle cx="615.4" cy="307.7" r="1.5" class="dr" stroke="#E8BE3A" fill="#FAF1D4"/>
<circle cx="609.8" cy="310.3" r="1.5" class="dr" stroke="#E8BE3A" fill="#FAF1D4"/>
<circle cx="588.0" cy="311.4" r="1.5" class="dr" stroke="#E8BE3A" fill="#FAF1D4"/>
<circle cx="591.3" cy="315.8" r="1.5" class="dr" stroke="#E8BE3A" fill="#FAF1D4"/>
<circle cx="637.0" cy="279.4" r="1.5" class="dr" stroke="#6A9A48" fill="#DEE9D7"/>
<circle cx="622.8" cy="301.9" r="1.5" class="dr" stroke="#6A9A48" fill="#DEE9D7"/>
<circle cx="634.0" cy="314.7" r="1.5" class="dr" stroke="#8C8C8C" fill="#E6E6E6"/>
<circle cx="573.0" cy="328.7" r="1.5" class="dr" stroke="#E8BE3A" fill="#FAF1D4"/>
<circle cx="585.0" cy="321.7" r="1.5" class="dr" stroke="#E8BE3A" fill="#FAF1D4"/>
<circle cx="598.3" cy="319.5" r="1.5" class="dr" stroke="#E8BE3A" fill="#FAF1D4"/>
<circle cx="602.0" cy="323.1" r="1.5" class="dr" stroke="#E8BE3A" fill="#FAF1D4"/>
<circle cx="609.5" cy="320.6" r="1.5" class="dr" stroke="#E8BE3A" fill="#FAF1D4"/>
<circle cx="583.3" cy="331.3" r="1.5" class="dr" stroke="#E8BE3A" fill="#FAF1D4"/>
<circle cx="593.1" cy="328.7" r="1.5" class="dr" stroke="#E8BE3A" fill="#FAF1D4"/>
<circle cx="590.5" cy="338.2" r="1.5" class="dr" stroke="#E8BE3A" fill="#FAF1D4"/>
<circle cx="632.3" cy="336.5" r="1.5" class="dr" stroke="#6A9A48" fill="#DEE9D7"/>
<circle cx="633.7" cy="346.9" r="1.5" class="dr" stroke="#6A9A48" fill="#DEE9D7"/>
<circle cx="622.8" cy="358.5" r="1.5" class="dr" stroke="#6A9A48" fill="#DEE9D7"/>
<circle cx="635.1" cy="364.4" r="1.5" class="dr" stroke="#6A9A48" fill="#DEE9D7"/>
<circle cx="647.5" cy="144.2" r="1.5" class="dr" stroke="#D8804C" fill="#F6E3D8"/>
<circle cx="664.7" cy="146.0" r="1.5" class="dr" stroke="#E8BE3A" fill="#FAF1D4"/>
<circle cx="683.1" cy="142.8" r="1.5" class="dr" stroke="#E8BE3A" fill="#FAF1D4"/>
<circle cx="672.3" cy="154.4" r="1.5" class="dr" stroke="#E8BE3A" fill="#FAF1D4"/>
<circle cx="664.7" cy="165.0" r="1.5" class="dr" stroke="#E8BE3A" fill="#FAF1D4"/>
<circle cx="682.6" cy="163.7" r="1.5" class="dr" stroke="#E8BE3A" fill="#FAF1D4"/>
<circle cx="678.1" cy="172.0" r="1.5" class="dr" stroke="#E8BE3A" fill="#FAF1D4"/>
<circle cx="670.1" cy="174.6" r="1.5" class="dr" stroke="#E8BE3A" fill="#FAF1D4"/>
<circle cx="656.9" cy="178.2" r="1.5" class="dr" stroke="#E8BE3A" fill="#FAF1D4"/>
<circle cx="662.5" cy="179.3" r="1.5" class="dr" stroke="#E8BE3A" fill="#FAF1D4"/>
<circle cx="673.1" cy="181.5" r="1.5" class="dr" stroke="#E8BE3A" fill="#FAF1D4"/>
<circle cx="677.6" cy="182.8" r="1.5" class="dr" stroke="#E8BE3A" fill="#FAF1D4"/>
<circle cx="669.4" cy="185.4" r="1.5" class="dr" stroke="#E8BE3A" fill="#FAF1D4"/>
<circle cx="658.6" cy="187.3" r="1.5" class="dr" stroke="#E8BE3A" fill="#FAF1D4"/>
<circle cx="650.8" cy="188.4" r="1.5" class="dr" stroke="#E8BE3A" fill="#FAF1D4"/>
<circle cx="707.1" cy="172.0" r="1.5" class="dr" stroke="#6A9A48" fill="#DEE9D7"/>
<circle cx="640.0" cy="192.3" r="1.5" class="dr" stroke="#E8BE3A" fill="#FAF1D4"/>
<circle cx="658.1" cy="193.0" r="1.5" class="dr" stroke="#E8BE3A" fill="#FAF1D4"/>
<circle cx="665.9" cy="194.3" r="1.5" class="dr" stroke="#E8BE3A" fill="#FAF1D4"/>
<circle cx="664.7" cy="195.5" r="1.5" class="dr" stroke="#E8BE3A" fill="#FAF1D4"/>
<circle cx="653.6" cy="197.9" r="1.5" class="dr" stroke="#E8BE3A" fill="#FAF1D4"/>
<circle cx="656.7" cy="197.1" r="1.5" class="dr" stroke="#E8BE3A" fill="#FAF1D4"/>
<circle cx="674.2" cy="196.8" r="1.5" class="dr" stroke="#E8BE3A" fill="#FAF1D4"/>
<circle cx="646.0" cy="200.5" r="1.5" class="dr" stroke="#E8BE3A" fill="#FAF1D4"/>
<circle cx="640.0" cy="207.2" r="1.5" class="dr" stroke="#E8BE3A" fill="#FAF1D4"/>
<circle cx="647.5" cy="206.4" r="1.5" class="dr" stroke="#E8BE3A" fill="#FAF1D4"/>
<circle cx="647.1" cy="210.8" r="1.5" class="dr" stroke="#E8BE3A" fill="#FAF1D4"/>
<circle cx="654.5" cy="207.7" r="1.5" class="dr" stroke="#E8BE3A" fill="#FAF1D4"/>
<circle cx="657.5" cy="204.6" r="1.5" class="dr" stroke="#E8BE3A" fill="#FAF1D4"/>
<circle cx="661.2" cy="209.7" r="1.5" class="dr" stroke="#E8BE3A" fill="#FAF1D4"/>
<circle cx="663.9" cy="213.5" r="1.5" class="dr" stroke="#E8BE3A" fill="#FAF1D4"/>
<circle cx="670.5" cy="208.6" r="1.5" class="dr" stroke="#E8BE3A" fill="#FAF1D4"/>
<circle cx="654.5" cy="215.7" r="1.5" class="dr" stroke="#E8BE3A" fill="#FAF1D4"/>
<circle cx="641.3" cy="218.0" r="1.5" class="dr" stroke="#E8BE3A" fill="#FAF1D4"/>
<circle cx="643.0" cy="221.6" r="1.5" class="dr" stroke="#E8BE3A" fill="#FAF1D4"/>
<circle cx="648.2" cy="219.4" r="1.5" class="dr" stroke="#E8BE3A" fill="#FAF1D4"/>
<circle cx="654.5" cy="222.0" r="1.5" class="dr" stroke="#E8BE3A" fill="#FAF1D4"/>
<circle cx="639.1" cy="225.0" r="1.5" class="dr" stroke="#E8BE3A" fill="#FAF1D4"/>
<circle cx="640.8" cy="228.9" r="1.5" class="dr" stroke="#E8BE3A" fill="#FAF1D4"/>
<circle cx="663.6" cy="226.4" r="1.5" class="dr" stroke="#E8BE3A" fill="#FAF1D4"/>
<circle cx="644.9" cy="233.3" r="1.5" class="dr" stroke="#E8BE3A" fill="#FAF1D4"/>
<circle cx="650.0" cy="233.3" r="1.5" class="dr" stroke="#E8BE3A" fill="#FAF1D4"/>
<circle cx="639.1" cy="236.1" r="1.5" class="dr" stroke="#E8BE3A" fill="#FAF1D4"/>
<circle cx="640.0" cy="239.5" r="1.5" class="dr" stroke="#E8BE3A" fill="#FAF1D4"/>
<circle cx="659.7" cy="237.8" r="1.5" class="dr" stroke="#E8BE3A" fill="#FAF1D4"/>
<circle cx="646.0" cy="241.4" r="1.5" class="dr" stroke="#E8BE3A" fill="#FAF1D4"/>
<circle cx="652.3" cy="242.5" r="1.5" class="dr" stroke="#E8BE3A" fill="#FAF1D4"/>
<circle cx="645.6" cy="252.8" r="1.5" class="dr" stroke="#E8BE3A" fill="#FAF1D4"/>
<circle cx="697.6" cy="197.9" r="1.5" class="dr" stroke="#6A9A48" fill="#DEE9D7"/>
<circle cx="712.9" cy="196.6" r="1.5" class="dr" stroke="#6A9A48" fill="#DEE9D7"/>
<circle cx="688.7" cy="206.4" r="1.5" class="dr" stroke="#6A9A48" fill="#DEE9D7"/>
<circle cx="701.0" cy="207.5" r="1.5" class="dr" stroke="#6A9A48" fill="#DEE9D7"/>
<circle cx="714.0" cy="212.0" r="1.5" class="dr" stroke="#6A9A48" fill="#DEE9D7"/>
<circle cx="696.8" cy="219.1" r="1.5" class="dr" stroke="#6A9A48" fill="#DEE9D7"/>
<circle cx="686.1" cy="225.0" r="1.5" class="dr" stroke="#6A9A48" fill="#DEE9D7"/>
<circle cx="704.3" cy="229.8" r="1.5" class="dr" stroke="#6A9A48" fill="#DEE9D7"/>
<circle cx="714.0" cy="228.9" r="1.5" class="dr" stroke="#6A9A48" fill="#DEE9D7"/>
<circle cx="678.1" cy="232.5" r="1.5" class="dr" stroke="#6A9A48" fill="#DEE9D7"/>
<circle cx="693.2" cy="235.8" r="1.5" class="dr" stroke="#6A9A48" fill="#DEE9D7"/>
<circle cx="707.3" cy="238.0" r="1.5" class="dr" stroke="#6A9A48" fill="#DEE9D7"/>
<circle cx="668.6" cy="241.7" r="1.5" class="dr" stroke="#6A9A48" fill="#DEE9D7"/>
<circle cx="682.8" cy="241.4" r="1.5" class="dr" stroke="#6A9A48" fill="#DEE9D7"/>
<circle cx="699.1" cy="241.7" r="1.5" class="dr" stroke="#6A9A48" fill="#DEE9D7"/>
<circle cx="710.2" cy="245.4" r="1.5" class="dr" stroke="#6A9A48" fill="#DEE9D7"/>
<circle cx="680.3" cy="247.8" r="1.5" class="dr" stroke="#6A9A48" fill="#DEE9D7"/>
<circle cx="688.7" cy="248.7" r="1.5" class="dr" stroke="#6A9A48" fill="#DEE9D7"/>
<circle cx="657.5" cy="252.1" r="1.5" class="dr" stroke="#6A9A48" fill="#DEE9D7"/>
<circle cx="703.7" cy="252.8" r="1.5" class="dr" stroke="#6A9A48" fill="#DEE9D7"/>
<circle cx="639.1" cy="259.0" r="1.5" class="dr" stroke="#E8BE3A" fill="#FAF1D4"/>
<circle cx="644.1" cy="266.5" r="1.5" class="dr" stroke="#E8BE3A" fill="#FAF1D4"/>
<circle cx="645.2" cy="254.6" r="1.5" class="dr" stroke="#E8BE3A" fill="#FAF1D4"/>
<circle cx="667.2" cy="258.2" r="1.5" class="dr" stroke="#6A9A48" fill="#DEE9D7"/>
<circle cx="673.1" cy="257.1" r="1.5" class="dr" stroke="#6A9A48" fill="#DEE9D7"/>
<circle cx="677.6" cy="257.1" r="1.5" class="dr" stroke="#6A9A48" fill="#DEE9D7"/>
<circle cx="681.5" cy="259.0" r="1.5" class="dr" stroke="#6A9A48" fill="#DEE9D7"/>
<circle cx="684.2" cy="258.5" r="1.5" class="dr" stroke="#6A9A48" fill="#DEE9D7"/>
<circle cx="689.5" cy="258.2" r="1.5" class="dr" stroke="#6A9A48" fill="#DEE9D7"/>
<circle cx="692.4" cy="258.5" r="1.5" class="dr" stroke="#6A9A48" fill="#DEE9D7"/>
<circle cx="682.0" cy="262.7" r="1.5" class="dr" stroke="#6A9A48" fill="#DEE9D7"/>
<circle cx="689.3" cy="263.8" r="1.5" class="dr" stroke="#6A9A48" fill="#DEE9D7"/>
<circle cx="692.6" cy="261.8" r="1.5" class="dr" stroke="#6A9A48" fill="#DEE9D7"/>
<circle cx="674.6" cy="264.0" r="1.5" class="dr" stroke="#6A9A48" fill="#DEE9D7"/>
<circle cx="668.1" cy="266.5" r="1.5" class="dr" stroke="#6A9A48" fill="#DEE9D7"/>
<circle cx="695.7" cy="266.5" r="1.5" class="dr" stroke="#6A9A48" fill="#DEE9D7"/>
<circle cx="651.1" cy="267.6" r="1.5" class="dr" stroke="#6A9A48" fill="#DEE9D7"/>
<circle cx="676.4" cy="268.5" r="1.5" class="dr" stroke="#6A9A48" fill="#DEE9D7"/>
<circle cx="673.1" cy="270.9" r="1.5" class="dr" stroke="#6A9A48" fill="#DEE9D7"/>
<circle cx="680.1" cy="271.3" r="1.5" class="dr" stroke="#6A9A48" fill="#DEE9D7"/>
<circle cx="685.0" cy="270.2" r="1.5" class="dr" stroke="#6A9A48" fill="#DEE9D7"/>
<circle cx="699.1" cy="270.9" r="1.5" class="dr" stroke="#6A9A48" fill="#DEE9D7"/>
<circle cx="689.5" cy="273.2" r="1.5" class="dr" stroke="#6A9A48" fill="#DEE9D7"/>
<circle cx="692.8" cy="273.2" r="1.5" class="dr" stroke="#6A9A48" fill="#DEE9D7"/>
<circle cx="666.7" cy="273.2" r="1.5" class="dr" stroke="#6A9A48" fill="#DEE9D7"/>
<circle cx="683.5" cy="276.8" r="1.5" class="dr" stroke="#6A9A48" fill="#DEE9D7"/>
<circle cx="676.4" cy="276.8" r="1.5" class="dr" stroke="#6A9A48" fill="#DEE9D7"/>
<circle cx="692.0" cy="280.5" r="1.5" class="dr" stroke="#6A9A48" fill="#DEE9D7"/>
<circle cx="662.0" cy="280.5" r="1.5" class="dr" stroke="#6A9A48" fill="#DEE9D7"/>
<circle cx="672.3" cy="279.6" r="1.5" class="dr" stroke="#6A9A48" fill="#DEE9D7"/>
<circle cx="672.8" cy="281.9" r="1.5" class="dr" stroke="#6A9A48" fill="#DEE9D7"/>
<circle cx="674.8" cy="284.3" r="1.5" class="dr" stroke="#6A9A48" fill="#DEE9D7"/>
<circle cx="649.1" cy="284.1" r="1.5" class="dr" stroke="#6A9A48" fill="#DEE9D7"/>
<circle cx="686.1" cy="285.2" r="1.5" class="dr" stroke="#6A9A48" fill="#DEE9D7"/>
<circle cx="665.6" cy="287.7" r="1.5" class="dr" stroke="#6A9A48" fill="#DEE9D7"/>
<circle cx="679.2" cy="289.7" r="1.5" class="dr" stroke="#6A9A48" fill="#DEE9D7"/>
<circle cx="682.8" cy="288.5" r="1.5" class="dr" stroke="#6A9A48" fill="#DEE9D7"/>
<circle cx="651.6" cy="290.8" r="1.5" class="dr" stroke="#6A9A48" fill="#DEE9D7"/>
<circle cx="659.7" cy="290.8" r="1.5" class="dr" stroke="#6A9A48" fill="#DEE9D7"/>
<circle cx="673.7" cy="292.4" r="1.5" class="dr" stroke="#6A9A48" fill="#DEE9D7"/>
<circle cx="685.7" cy="293.2" r="1.5" class="dr" stroke="#6A9A48" fill="#DEE9D7"/>
<circle cx="641.9" cy="298.3" r="1.5" class="dr" stroke="#6A9A48" fill="#DEE9D7"/>
<circle cx="666.7" cy="296.1" r="1.5" class="dr" stroke="#6A9A48" fill="#DEE9D7"/>
<circle cx="670.3" cy="298.3" r="1.5" class="dr" stroke="#6A9A48" fill="#DEE9D7"/>
<circle cx="672.8" cy="299.1" r="1.5" class="dr" stroke="#6A9A48" fill="#DEE9D7"/>
<circle cx="675.7" cy="296.9" r="1.5" class="dr" stroke="#6A9A48" fill="#DEE9D7"/>
<circle cx="664.2" cy="300.6" r="1.5" class="dr" stroke="#6A9A48" fill="#DEE9D7"/>
<circle cx="676.8" cy="301.7" r="1.5" class="dr" stroke="#6A9A48" fill="#DEE9D7"/>
<circle cx="679.5" cy="302.8" r="1.5" class="dr" stroke="#6A9A48" fill="#DEE9D7"/>
<circle cx="682.4" cy="302.8" r="1.5" class="dr" stroke="#6A9A48" fill="#DEE9D7"/>
<circle cx="675.0" cy="305.3" r="1.5" class="dr" stroke="#6A9A48" fill="#DEE9D7"/>
<circle cx="656.7" cy="305.8" r="1.5" class="dr" stroke="#6A9A48" fill="#DEE9D7"/>
<circle cx="661.6" cy="307.7" r="1.5" class="dr" stroke="#6A9A48" fill="#DEE9D7"/>
<circle cx="647.8" cy="308.8" r="1.5" class="dr" stroke="#6A9A48" fill="#DEE9D7"/>
<circle cx="665.6" cy="310.3" r="1.5" class="dr" stroke="#6A9A48" fill="#DEE9D7"/>
<circle cx="669.8" cy="311.1" r="1.5" class="dr" stroke="#6A9A48" fill="#DEE9D7"/>
<circle cx="673.9" cy="313.6" r="1.5" class="dr" stroke="#6A9A48" fill="#DEE9D7"/>
<circle cx="650.8" cy="315.1" r="1.5" class="dr" stroke="#6A9A48" fill="#DEE9D7"/>
<circle cx="698.0" cy="254.9" r="1.5" class="dr" stroke="#6A9A48" fill="#DEE9D7"/>
<circle cx="696.8" cy="291.0" r="1.5" class="dr" stroke="#8C8C8C" fill="#E6E6E6"/>
<circle cx="707.3" cy="297.2" r="1.5" class="dr" stroke="#8C8C8C" fill="#E6E6E6"/>
<circle cx="687.0" cy="307.7" r="1.5" class="dr" stroke="#8C8C8C" fill="#E6E6E6"/>
<circle cx="705.1" cy="309.9" r="1.5" class="dr" stroke="#8C8C8C" fill="#E6E6E6"/>
<circle cx="711.3" cy="309.9" r="1.5" class="dr" stroke="#8C8C8C" fill="#E6E6E6"/>
<circle cx="679.8" cy="314.7" r="1.5" class="dr" stroke="#8C8C8C" fill="#E6E6E6"/>
<circle cx="706.2" cy="314.7" r="1.5" class="dr" stroke="#8C8C8C" fill="#E6E6E6"/>
<circle cx="641.3" cy="325.0" r="1.5" class="dr" stroke="#6A9A48" fill="#DEE9D7"/>
<circle cx="648.6" cy="326.8" r="1.5" class="dr" stroke="#6A9A48" fill="#DEE9D7"/>
<circle cx="655.3" cy="320.6" r="1.5" class="dr" stroke="#6A9A48" fill="#DEE9D7"/>
<circle cx="661.2" cy="318.7" r="1.5" class="dr" stroke="#6A9A48" fill="#DEE9D7"/>
<circle cx="667.2" cy="319.5" r="1.5" class="dr" stroke="#6A9A48" fill="#DEE9D7"/>
<circle cx="670.9" cy="318.7" r="1.5" class="dr" stroke="#6A9A48" fill="#DEE9D7"/>
<circle cx="667.2" cy="324.2" r="1.5" class="dr" stroke="#6A9A48" fill="#DEE9D7"/>
<circle cx="650.3" cy="331.3" r="1.5" class="dr" stroke="#6A9A48" fill="#DEE9D7"/>
<circle cx="658.9" cy="330.1" r="1.5" class="dr" stroke="#6A9A48" fill="#DEE9D7"/>
<circle cx="644.9" cy="337.1" r="1.5" class="dr" stroke="#6A9A48" fill="#DEE9D7"/>
<circle cx="650.3" cy="340.6" r="1.5" class="dr" stroke="#6A9A48" fill="#DEE9D7"/>
<circle cx="643.4" cy="347.6" r="1.5" class="dr" stroke="#6A9A48" fill="#DEE9D7"/>
<circle cx="649.4" cy="354.9" r="1.5" class="dr" stroke="#6A9A48" fill="#DEE9D7"/>
<circle cx="673.1" cy="325.0" r="1.5" class="dr" stroke="#8C8C8C" fill="#E6E6E6"/>
<circle cx="669.4" cy="327.9" r="1.5" class="dr" stroke="#8C8C8C" fill="#E6E6E6"/>
<circle cx="663.9" cy="336.2" r="1.5" class="dr" stroke="#8C8C8C" fill="#E6E6E6"/>
<circle cx="692.6" cy="321.7" r="1.5" class="dr" stroke="#8C8C8C" fill="#E6E6E6"/>
<circle cx="700.6" cy="320.6" r="1.5" class="dr" stroke="#8C8C8C" fill="#E6E6E6"/>
<circle cx="707.6" cy="325.0" r="1.5" class="dr" stroke="#8C8C8C" fill="#E6E6E6"/>
<circle cx="711.3" cy="327.9" r="1.5" class="dr" stroke="#8C8C8C" fill="#E6E6E6"/>
<circle cx="701.5" cy="332.4" r="1.5" class="dr" stroke="#8C8C8C" fill="#E6E6E6"/>
<circle cx="705.4" cy="333.5" r="1.5" class="dr" stroke="#8C8C8C" fill="#E6E6E6"/>
<circle cx="708.0" cy="334.6" r="1.5" class="dr" stroke="#8C8C8C" fill="#E6E6E6"/>
<circle cx="687.0" cy="338.2" r="1.5" class="dr" stroke="#8C8C8C" fill="#E6E6E6"/>
<circle cx="695.9" cy="337.1" r="1.5" class="dr" stroke="#8C8C8C" fill="#E6E6E6"/>
<circle cx="711.8" cy="341.7" r="1.5" class="dr" stroke="#8C8C8C" fill="#E6E6E6"/>
<circle cx="658.1" cy="342.9" r="1.5" class="dr" stroke="#8C8C8C" fill="#E6E6E6"/>
<circle cx="662.0" cy="345.8" r="1.5" class="dr" stroke="#8C8C8C" fill="#E6E6E6"/>
<circle cx="673.1" cy="342.9" r="1.5" class="dr" stroke="#8C8C8C" fill="#E6E6E6"/>
<circle cx="696.8" cy="349.3" r="1.5" class="dr" stroke="#8C8C8C" fill="#E6E6E6"/>
<circle cx="699.9" cy="346.9" r="1.5" class="dr" stroke="#8C8C8C" fill="#E6E6E6"/>
<circle cx="704.9" cy="349.3" r="1.5" class="dr" stroke="#8C8C8C" fill="#E6E6E6"/>
<circle cx="706.5" cy="349.3" r="1.5" class="dr" stroke="#8C8C8C" fill="#E6E6E6"/>
<circle cx="684.8" cy="353.8" r="1.5" class="dr" stroke="#8C8C8C" fill="#E6E6E6"/>
<circle cx="656.1" cy="353.8" r="1.5" class="dr" stroke="#8C8C8C" fill="#E6E6E6"/>
<circle cx="691.7" cy="359.6" r="1.5" class="dr" stroke="#8C8C8C" fill="#E6E6E6"/>
<circle cx="701.3" cy="357.3" r="1.5" class="dr" stroke="#8C8C8C" fill="#E6E6E6"/>
<circle cx="709.3" cy="359.6" r="1.5" class="dr" stroke="#8C8C8C" fill="#E6E6E6"/>
<circle cx="698.4" cy="365.1" r="1.5" class="dr" stroke="#8C8C8C" fill="#E6E6E6"/>
<circle cx="683.5" cy="368.0" r="1.5" class="dr" stroke="#8C8C8C" fill="#E6E6E6"/>
<circle cx="645.6" cy="368.0" r="1.5" class="dr" stroke="#8C8C8C" fill="#E6E6E6"/>
<circle cx="676.4" cy="372.7" r="1.5" class="dr" stroke="#8C8C8C" fill="#E6E6E6"/>
<circle cx="697.6" cy="374.9" r="1.5" class="dr" stroke="#8C8C8C" fill="#E6E6E6"/>
<circle cx="706.9" cy="372.7" r="1.5" class="dr" stroke="#8C8C8C" fill="#E6E6E6"/>
<circle cx="708.4" cy="372.7" r="1.5" class="dr" stroke="#8C8C8C" fill="#E6E6E6"/>
<circle cx="713.8" cy="349.5" r="1.5" class="dr" stroke="#8C8C8C" fill="#E6E6E6"/>
<circle cx="684.8" cy="381.1" r="1.5" class="dr" stroke="#8C8C8C" fill="#E6E6E6"/>
<circle cx="690.9" cy="381.1" r="1.5" class="dr" stroke="#8C8C8C" fill="#E6E6E6"/>
<circle cx="694.8" cy="391.1" r="1.5" class="dr" stroke="#8C8C8C" fill="#E6E6E6"/>
<circle cx="689.5" cy="395.8" r="1.5" class="dr" stroke="#8C8C8C" fill="#E6E6E6"/>
<circle cx="704.9" cy="388.0" r="1.5" class="dr" stroke="#8C8C8C" fill="#E6E6E6"/>
<circle cx="709.3" cy="388.0" r="1.5" class="dr" stroke="#8C8C8C" fill="#E6E6E6"/>
<circle cx="707.3" cy="404.3" r="1.5" class="dr" stroke="#8C8C8C" fill="#E6E6E6"/>
<circle cx="698.7" cy="409.2" r="1.5" class="dr" stroke="#8C8C8C" fill="#E6E6E6"/>
<circle cx="706.5" cy="419.9" r="1.5" class="dr" stroke="#8C8C8C" fill="#E6E6E6"/>
<circle cx="718.9" cy="176.8" r="1.5" class="dr" stroke="#6A9A48" fill="#DEE9D7"/>
<circle cx="719.7" cy="199.0" r="1.5" class="dr" stroke="#6A9A48" fill="#DEE9D7"/>
<circle cx="727.8" cy="205.5" r="1.5" class="dr" stroke="#6A9A48" fill="#DEE9D7"/>
<circle cx="720.6" cy="232.5" r="1.5" class="dr" stroke="#6A9A48" fill="#DEE9D7"/>
<circle cx="748.7" cy="217.2" r="1.5" class="dr" stroke="#8C8C8C" fill="#E6E6E6"/>
<circle cx="762.7" cy="217.2" r="1.5" class="dr" stroke="#8C8C8C" fill="#E6E6E6"/>
<circle cx="771.0" cy="217.2" r="1.5" class="dr" stroke="#8C8C8C" fill="#E6E6E6"/>
<circle cx="746.4" cy="227.5" r="1.5" class="dr" stroke="#8C8C8C" fill="#E6E6E6"/>
<circle cx="759.8" cy="231.1" r="1.5" class="dr" stroke="#8C8C8C" fill="#E6E6E6"/>
<circle cx="742.0" cy="235.8" r="1.5" class="dr" stroke="#8C8C8C" fill="#E6E6E6"/>
<circle cx="747.9" cy="239.5" r="1.5" class="dr" stroke="#8C8C8C" fill="#E6E6E6"/>
<circle cx="756.8" cy="239.5" r="1.5" class="dr" stroke="#8C8C8C" fill="#E6E6E6"/>
<circle cx="772.4" cy="238.0" r="1.5" class="dr" stroke="#8C8C8C" fill="#E6E6E6"/>
<circle cx="764.9" cy="244.3" r="1.5" class="dr" stroke="#8C8C8C" fill="#E6E6E6"/>
<circle cx="733.0" cy="245.0" r="1.5" class="dr" stroke="#8C8C8C" fill="#E6E6E6"/>
<circle cx="743.7" cy="248.7" r="1.5" class="dr" stroke="#8C8C8C" fill="#E6E6E6"/>
<circle cx="750.9" cy="251.0" r="1.5" class="dr" stroke="#8C8C8C" fill="#E6E6E6"/>
<circle cx="738.2" cy="257.1" r="1.5" class="dr" stroke="#8C8C8C" fill="#E6E6E6"/>
<circle cx="728.6" cy="262.0" r="1.5" class="dr" stroke="#8C8C8C" fill="#E6E6E6"/>
<circle cx="750.1" cy="262.9" r="1.5" class="dr" stroke="#8C8C8C" fill="#E6E6E6"/>
<circle cx="760.5" cy="259.3" r="1.5" class="dr" stroke="#8C8C8C" fill="#E6E6E6"/>
<circle cx="771.8" cy="262.0" r="1.5" class="dr" stroke="#8C8C8C" fill="#E6E6E6"/>
<circle cx="718.6" cy="266.5" r="1.5" class="dr" stroke="#8C8C8C" fill="#E6E6E6"/>
<circle cx="739.7" cy="272.1" r="1.5" class="dr" stroke="#8C8C8C" fill="#E6E6E6"/>
<circle cx="746.0" cy="273.5" r="1.5" class="dr" stroke="#8C8C8C" fill="#E6E6E6"/>
<circle cx="764.0" cy="272.1" r="1.5" class="dr" stroke="#8C8C8C" fill="#E6E6E6"/>
<circle cx="721.5" cy="280.5" r="1.5" class="dr" stroke="#8C8C8C" fill="#E6E6E6"/>
<circle cx="728.6" cy="279.4" r="1.5" class="dr" stroke="#8C8C8C" fill="#E6E6E6"/>
<circle cx="715.9" cy="283.2" r="1.5" class="dr" stroke="#8C8C8C" fill="#E6E6E6"/>
<circle cx="733.9" cy="283.2" r="1.5" class="dr" stroke="#8C8C8C" fill="#E6E6E6"/>
<circle cx="729.5" cy="285.4" r="1.5" class="dr" stroke="#8C8C8C" fill="#E6E6E6"/>
<circle cx="747.1" cy="283.2" r="1.5" class="dr" stroke="#8C8C8C" fill="#E6E6E6"/>
<circle cx="755.7" cy="279.6" r="1.5" class="dr" stroke="#8C8C8C" fill="#E6E6E6"/>
<circle cx="768.7" cy="281.6" r="1.5" class="dr" stroke="#8C8C8C" fill="#E6E6E6"/>
<circle cx="740.4" cy="286.5" r="1.5" class="dr" stroke="#8C8C8C" fill="#E6E6E6"/>
<circle cx="724.8" cy="289.9" r="1.5" class="dr" stroke="#8C8C8C" fill="#E6E6E6"/>
<circle cx="732.6" cy="291.0" r="1.5" class="dr" stroke="#8C8C8C" fill="#E6E6E6"/>
<circle cx="752.3" cy="291.0" r="1.5" class="dr" stroke="#8C8C8C" fill="#E6E6E6"/>
<circle cx="737.5" cy="294.7" r="1.5" class="dr" stroke="#8C8C8C" fill="#E6E6E6"/>
<circle cx="715.9" cy="296.9" r="1.5" class="dr" stroke="#8C8C8C" fill="#E6E6E6"/>
<circle cx="718.6" cy="299.5" r="1.5" class="dr" stroke="#8C8C8C" fill="#E6E6E6"/>
<circle cx="724.5" cy="298.3" r="1.5" class="dr" stroke="#8C8C8C" fill="#E6E6E6"/>
<circle cx="731.7" cy="297.2" r="1.5" class="dr" stroke="#8C8C8C" fill="#E6E6E6"/>
<circle cx="743.7" cy="300.8" r="1.5" class="dr" stroke="#8C8C8C" fill="#E6E6E6"/>
<circle cx="754.9" cy="299.1" r="1.5" class="dr" stroke="#8C8C8C" fill="#E6E6E6"/>
<circle cx="762.0" cy="299.1" r="1.5" class="dr" stroke="#8C8C8C" fill="#E6E6E6"/>
<circle cx="727.8" cy="304.1" r="1.5" class="dr" stroke="#8C8C8C" fill="#E6E6E6"/>
<circle cx="722.8" cy="307.7" r="1.5" class="dr" stroke="#8C8C8C" fill="#E6E6E6"/>
<circle cx="715.6" cy="309.9" r="1.5" class="dr" stroke="#8C8C8C" fill="#E6E6E6"/>
<circle cx="720.6" cy="311.4" r="1.5" class="dr" stroke="#8C8C8C" fill="#E6E6E6"/>
<circle cx="737.5" cy="307.7" r="1.5" class="dr" stroke="#8C8C8C" fill="#E6E6E6"/>
<circle cx="748.7" cy="306.6" r="1.5" class="dr" stroke="#8C8C8C" fill="#E6E6E6"/>
<circle cx="733.4" cy="311.4" r="1.5" class="dr" stroke="#8C8C8C" fill="#E6E6E6"/>
<circle cx="742.9" cy="311.4" r="1.5" class="dr" stroke="#8C8C8C" fill="#E6E6E6"/>
<circle cx="724.8" cy="314.7" r="1.5" class="dr" stroke="#8C8C8C" fill="#E6E6E6"/>
<circle cx="738.2" cy="314.7" r="1.5" class="dr" stroke="#8C8C8C" fill="#E6E6E6"/>
<circle cx="752.3" cy="316.2" r="1.5" class="dr" stroke="#8C8C8C" fill="#E6E6E6"/>
<circle cx="759.8" cy="315.5" r="1.5" class="dr" stroke="#8C8C8C" fill="#E6E6E6"/>
<circle cx="717.8" cy="318.7" r="1.5" class="dr" stroke="#8C8C8C" fill="#E6E6E6"/>
<circle cx="721.9" cy="323.1" r="1.5" class="dr" stroke="#8C8C8C" fill="#E6E6E6"/>
<circle cx="727.0" cy="321.7" r="1.5" class="dr" stroke="#8C8C8C" fill="#E6E6E6"/>
<circle cx="736.0" cy="323.1" r="1.5" class="dr" stroke="#8C8C8C" fill="#E6E6E6"/>
<circle cx="741.5" cy="323.1" r="1.5" class="dr" stroke="#8C8C8C" fill="#E6E6E6"/>
<circle cx="715.6" cy="326.8" r="1.5" class="dr" stroke="#8C8C8C" fill="#E6E6E6"/>
<circle cx="728.6" cy="328.7" r="1.5" class="dr" stroke="#8C8C8C" fill="#E6E6E6"/>
<circle cx="734.5" cy="330.1" r="1.5" class="dr" stroke="#8C8C8C" fill="#E6E6E6"/>
<circle cx="736.2" cy="327.9" r="1.5" class="dr" stroke="#8C8C8C" fill="#E6E6E6"/>
<circle cx="742.9" cy="328.7" r="1.5" class="dr" stroke="#8C8C8C" fill="#E6E6E6"/>
<circle cx="748.7" cy="330.1" r="1.5" class="dr" stroke="#8C8C8C" fill="#E6E6E6"/>
<circle cx="756.2" cy="328.7" r="1.5" class="dr" stroke="#8C8C8C" fill="#E6E6E6"/>
<circle cx="763.5" cy="327.9" r="1.5" class="dr" stroke="#8C8C8C" fill="#E6E6E6"/>
<circle cx="717.0" cy="337.9" r="1.5" class="dr" stroke="#8C8C8C" fill="#E6E6E6"/>
<circle cx="721.5" cy="337.1" r="1.5" class="dr" stroke="#8C8C8C" fill="#E6E6E6"/>
<circle cx="726.1" cy="334.6" r="1.5" class="dr" stroke="#8C8C8C" fill="#E6E6E6"/>
<circle cx="730.4" cy="333.5" r="1.5" class="dr" stroke="#8C8C8C" fill="#E6E6E6"/>
<circle cx="734.5" cy="337.9" r="1.5" class="dr" stroke="#8C8C8C" fill="#E6E6E6"/>
<circle cx="736.0" cy="341.0" r="1.5" class="dr" stroke="#8C8C8C" fill="#E6E6E6"/>
<circle cx="742.0" cy="338.2" r="1.5" class="dr" stroke="#8C8C8C" fill="#E6E6E6"/>
<circle cx="748.7" cy="341.7" r="1.5" class="dr" stroke="#8C8C8C" fill="#E6E6E6"/>
<circle cx="756.2" cy="339.8" r="1.5" class="dr" stroke="#8C8C8C" fill="#E6E6E6"/>
<circle cx="721.5" cy="342.9" r="1.5" class="dr" stroke="#8C8C8C" fill="#E6E6E6"/>
<circle cx="731.2" cy="345.8" r="1.5" class="dr" stroke="#8C8C8C" fill="#E6E6E6"/>
<circle cx="755.7" cy="346.9" r="1.5" class="dr" stroke="#8C8C8C" fill="#E6E6E6"/>
<circle cx="721.1" cy="351.3" r="1.5" class="dr" stroke="#8C8C8C" fill="#E6E6E6"/>
<circle cx="725.0" cy="350.2" r="1.5" class="dr" stroke="#8C8C8C" fill="#E6E6E6"/>
<circle cx="738.2" cy="349.1" r="1.5" class="dr" stroke="#8C8C8C" fill="#E6E6E6"/>
<circle cx="727.8" cy="354.9" r="1.5" class="dr" stroke="#8C8C8C" fill="#E6E6E6"/>
<circle cx="734.5" cy="352.7" r="1.5" class="dr" stroke="#8C8C8C" fill="#E6E6E6"/>
<circle cx="742.0" cy="353.8" r="1.5" class="dr" stroke="#8C8C8C" fill="#E6E6E6"/>
<circle cx="715.6" cy="358.8" r="1.5" class="dr" stroke="#8C8C8C" fill="#E6E6E6"/>
<circle cx="715.6" cy="362.1" r="1.5" class="dr" stroke="#8C8C8C" fill="#E6E6E6"/>
<circle cx="751.8" cy="357.3" r="1.5" class="dr" stroke="#8C8C8C" fill="#E6E6E6"/>
<circle cx="723.4" cy="364.0" r="1.5" class="dr" stroke="#8C8C8C" fill="#E6E6E6"/>
<circle cx="727.8" cy="365.1" r="1.5" class="dr" stroke="#8C8C8C" fill="#E6E6E6"/>
<circle cx="733.9" cy="362.1" r="1.5" class="dr" stroke="#8C8C8C" fill="#E6E6E6"/>
<circle cx="744.2" cy="364.4" r="1.5" class="dr" stroke="#8C8C8C" fill="#E6E6E6"/>
<circle cx="715.6" cy="371.6" r="1.5" class="dr" stroke="#8C8C8C" fill="#E6E6E6"/>
<circle cx="727.0" cy="373.6" r="1.5" class="dr" stroke="#8C8C8C" fill="#E6E6E6"/>
<circle cx="728.2" cy="374.9" r="1.5" class="dr" stroke="#8C8C8C" fill="#E6E6E6"/>
<circle cx="734.5" cy="370.7" r="1.5" class="dr" stroke="#8C8C8C" fill="#E6E6E6"/>
<circle cx="740.4" cy="377.4" r="1.5" class="dr" stroke="#8C8C8C" fill="#E6E6E6"/>
<circle cx="748.7" cy="378.3" r="1.5" class="dr" stroke="#8C8C8C" fill="#E6E6E6"/>
<circle cx="720.6" cy="381.7" r="1.5" class="dr" stroke="#8C8C8C" fill="#E6E6E6"/>
<circle cx="721.5" cy="384.5" r="1.5" class="dr" stroke="#8C8C8C" fill="#E6E6E6"/>
<circle cx="715.6" cy="384.5" r="1.5" class="dr" stroke="#8C8C8C" fill="#E6E6E6"/>
<circle cx="731.2" cy="386.7" r="1.5" class="dr" stroke="#8C8C8C" fill="#E6E6E6"/>
<circle cx="737.5" cy="388.0" r="1.5" class="dr" stroke="#8C8C8C" fill="#E6E6E6"/>
<circle cx="733.9" cy="391.1" r="1.5" class="dr" stroke="#8C8C8C" fill="#E6E6E6"/>
<circle cx="743.1" cy="394.7" r="1.5" class="dr" stroke="#8C8C8C" fill="#E6E6E6"/>
<circle cx="715.9" cy="400.9" r="1.5" class="dr" stroke="#8C8C8C" fill="#E6E6E6"/>
<circle cx="723.7" cy="400.9" r="1.5" class="dr" stroke="#8C8C8C" fill="#E6E6E6"/>
<circle cx="730.4" cy="402.1" r="1.5" class="dr" stroke="#8C8C8C" fill="#E6E6E6"/>
<circle cx="736.0" cy="404.3" r="1.5" class="dr" stroke="#8C8C8C" fill="#E6E6E6"/>
<circle cx="717.8" cy="411.4" r="1.5" class="dr" stroke="#8C8C8C" fill="#E6E6E6"/>
<circle cx="727.0" cy="416.2" r="1.5" class="dr" stroke="#8C8C8C" fill="#E6E6E6"/>
<circle cx="733.9" cy="421.0" r="1.5" class="dr" stroke="#8C8C8C" fill="#E6E6E6"/>
<circle cx="715.9" cy="423.5" r="1.5" class="dr" stroke="#8C8C8C" fill="#E6E6E6"/>
<line x1="498.3" y1="212.6" x2="583.0" y2="135.2" class="tr" stroke="#4F86C6"/>
<line x1="527.4" y1="286.9" x2="647.4" y2="144.1" class="tr" stroke="#D9773F"/>
<line x1="572.8" y1="330.8" x2="682.5" y2="165.0" class="tr" stroke="#E8B020"/>
<line x1="622.1" y1="354.3" x2="727.8" y2="205.4" class="tr" stroke="#5F9A3C"/>
<line x1="644.9" y1="393.5" x2="772.4" y2="289.4" class="tr" stroke="#B5B5B5"/>
<circle cx="822.2" cy="204.9" r="1.6" fill="#A8A8A8" stroke="#8C8C8C" stroke-width="0.5" stroke-opacity="0.6"/>
<circle cx="822.2" cy="220.6" r="1.6" fill="#E8A890" stroke="#D8804C" stroke-width="0.5" stroke-opacity="0.6"/>
<circle cx="822.2" cy="236.2" r="1.6" fill="#A8C898" stroke="#6A9A48" stroke-width="0.5" stroke-opacity="0.6"/>
<circle cx="822.2" cy="251.9" r="1.6" fill="#A8C0E0" stroke="#5787C0" stroke-width="0.5" stroke-opacity="0.6"/>
<circle cx="822.2" cy="267.5" r="1.6" fill="#F0D890" stroke="#E8BE3A" stroke-width="0.5" stroke-opacity="0.6"/>
</g>
<g>
<text x="72.0" y="133.5" class="tk" text-anchor="end">100</text>
<text x="72.0" y="195.5" class="tk" text-anchor="end">95</text>
<text x="72.0" y="256.5" class="tk" text-anchor="end">90</text>
<text x="72.0" y="318.5" class="tk" text-anchor="end">85</text>
<text x="72.0" y="379.5" class="tk" text-anchor="end">80</text>
<text x="72.0" y="440.5" class="tk" text-anchor="end">75</text>
<text x="79.5" y="451.3" class="tk" text-anchor="middle">6</text>
<text x="160.5" y="451.3" class="tk" text-anchor="middle">11</text>
<text x="241.5" y="451.3" class="tk" text-anchor="middle">16</text>
<text x="322.5" y="451.3" class="tk" text-anchor="middle">21</text>
<text x="403.5" y="451.3" class="tk" text-anchor="middle">26</text>
<text x="241.5" y="464.2" class="at" text-anchor="middle">Preparation Time (hours)</text>
<text transform="translate(53.7,284.0) rotate(-90)" class="yt" text-anchor="middle">Test Scores (/100)</text>
<text x="58.1" y="83.6" class="ti">Impact of preparation time on test scores by subject</text>
<text x="58.1" y="96" class="st">Best School - 2022</text>
<text x="58.1" y="496" class="src">Source: Best School Test Results Survey, 2022.</text>
<text x="478.0" y="133.5" class="tk" text-anchor="end">100</text>
<text x="478.0" y="195.5" class="tk" text-anchor="end">95</text>
<text x="478.0" y="256.5" class="tk" text-anchor="end">90</text>
<text x="478.0" y="318.5" class="tk" text-anchor="end">85</text>
<text x="478.0" y="379.5" class="tk" text-anchor="end">80</text>
<text x="478.0" y="440.5" class="tk" text-anchor="end">75</text>
<text x="485.5" y="451.3" class="tk" text-anchor="middle">6</text>
<text x="561.5" y="451.3" class="tk" text-anchor="middle">11</text>
<text x="637.5" y="451.3" class="tk" text-anchor="middle">16</text>
<text x="713.5" y="451.3" class="tk" text-anchor="middle">21</text>
<text x="789.5" y="451.3" class="tk" text-anchor="middle">26</text>
<text x="637.5" y="464.2" class="at" text-anchor="middle">Preparation Time (hours)</text>
<text transform="translate(459.7,284.0) rotate(-90)" class="yt" text-anchor="middle">Test Scores (/100)</text>
<text x="463.7" y="83.6" class="ti">Impact of preparation time on test scores by subject</text>
<text x="463.7" y="96" class="st">Best School - 2022</text>
<text x="463.7" y="496" class="src">Source: Best School Test Results Survey, 2022.</text>
<text x="310.9" y="145.6" class="eq">Y = 103.06 - 0.80X</text>
<text x="310.9" y="157" class="eq">r² = 0.415</text>
<text x="836.9" y="207.8" class="lg">Algebra</text>
<text x="836.9" y="223.5" class="lg">Art</text>
<text x="836.9" y="239.1" class="lg">English</text>
<text x="836.9" y="254.8" class="lg">Physical Education</text>
<text x="836.9" y="270.4" class="lg">Social Studies</text>
<text x="820.2" y="88.7" class="red" textLength="165.4" lengthAdjust="spacing">Model could be used</text>
<text x="821.3" y="108.8" class="red" textLength="155.3" lengthAdjust="spacing">to show the special</text>
<text x="820.8" y="128.9" class="red" textLength="142.4" lengthAdjust="spacing">case of ecological</text>
<text x="820.8" y="149.0" class="red" textLength="132.2" lengthAdjust="spacing">correlation--The</text>
<text x="820.2" y="169.1" class="red" textLength="153.1" lengthAdjust="spacing">Simpson's Paradox.</text>
</g>
</svg>
</body></html>
